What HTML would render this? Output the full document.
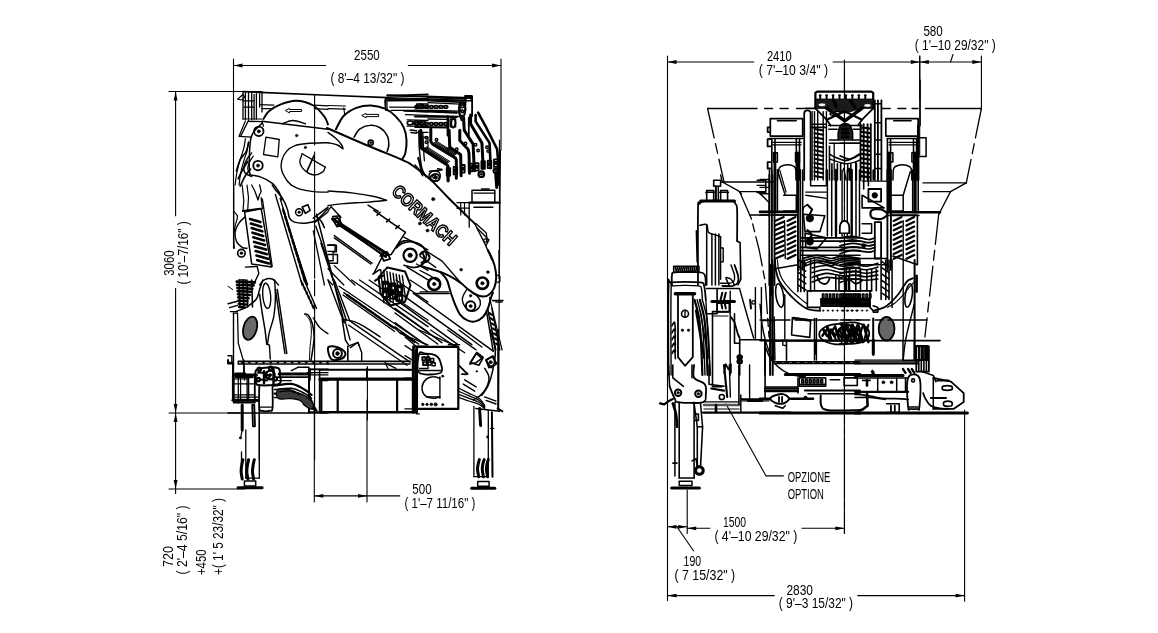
<!DOCTYPE html>
<html><head><meta charset="utf-8"><style>
html,body{margin:0;padding:0;background:#fff;}
svg{display:block;filter:grayscale(1);}
text{font-family:"Liberation Sans",sans-serif;fill:#000;stroke:none;}
</style></head><body>
<svg width="1158" height="633" viewBox="0 0 1158 633" stroke="#000" fill="none" stroke-linecap="round" stroke-linejoin="round">
<line x1="233.5" y1="59" x2="233.5" y2="248" stroke-width="1.1" />
<line x1="501" y1="59" x2="501" y2="150" stroke-width="1.1" />
<line x1="500.5" y1="150" x2="499.5" y2="250" stroke-width="1.1" />
<line x1="499.5" y1="250" x2="498.5" y2="408" stroke-width="1.1" />
<line x1="233.5" y1="65.5" x2="325.6" y2="65.5" stroke-width="1.1" />
<line x1="408.3" y1="65.5" x2="501" y2="65.5" stroke-width="1.1" />
<path d="M233.50,65.50 L242.50,63.60 L242.50,67.40 Z" fill="#000" stroke="none"/>
<path d="M501.00,65.50 L492.00,67.40 L492.00,63.60 Z" fill="#000" stroke="none"/>
<text x="354" y="60" font-size="15.5" textLength="25.8" lengthAdjust="spacingAndGlyphs" >2550</text>
<text x="330.4" y="83.3" font-size="15.5" textLength="74.1" lengthAdjust="spacingAndGlyphs" >( 8'–4 13/32&quot; )</text>
<line x1="169" y1="91.5" x2="262" y2="91.5" stroke-width="1.1" />
<line x1="175.6" y1="91.5" x2="175.6" y2="215.7" stroke-width="1.1" />
<line x1="175.6" y1="288.4" x2="175.6" y2="493.5" stroke-width="1.1" />
<path d="M175.60,91.50 L177.50,100.50 L173.70,100.50 Z" fill="#000" stroke="none"/>
<path d="M175.60,413.00 L173.70,404.00 L177.50,404.00 Z" fill="#000" stroke="none"/>
<path d="M175.60,413.00 L177.50,422.00 L173.70,422.00 Z" fill="#000" stroke="none"/>
<path d="M175.60,489.00 L173.70,480.00 L177.50,480.00 Z" fill="#000" stroke="none"/>
<text transform="translate(173.8,275.7) rotate(-90)" x="0" y="0" font-size="15.5" textLength="25.3" lengthAdjust="spacingAndGlyphs" >3060</text>
<text transform="translate(187.7,284.6) rotate(-90)" x="0" y="0" font-size="15.5" textLength="63.2" lengthAdjust="spacingAndGlyphs" >( 10'–7/16&quot; )</text>
<line x1="169" y1="413" x2="240" y2="413" stroke-width="1.1" />
<line x1="169" y1="489" x2="245" y2="489" stroke-width="1.1" />
<text transform="translate(172.6,567.1) rotate(-90)" x="0" y="0" font-size="15.5" textLength="21" lengthAdjust="spacingAndGlyphs" >720</text>
<text transform="translate(187.2,574.5) rotate(-90)" x="0" y="0" font-size="15.5" textLength="69" lengthAdjust="spacingAndGlyphs" >( 2'–4 5/16&quot; )</text>
<text transform="translate(205.8,575) rotate(-90)" x="0" y="0" font-size="15.5" textLength="25.5" lengthAdjust="spacingAndGlyphs" >+450</text>
<text transform="translate(223,575) rotate(-90)" x="0" y="0" font-size="15.5" textLength="77" lengthAdjust="spacingAndGlyphs" >+( 1' 5 23/32&quot; )</text>
<line x1="314.3" y1="400" x2="314.3" y2="502" stroke-width="1.1" />
<line x1="367" y1="400" x2="367" y2="502" stroke-width="1.1" />
<line x1="314.3" y1="495.9" x2="399.8" y2="495.9" stroke-width="1.1" />
<path d="M314.30,495.90 L323.30,494.00 L323.30,497.80 Z" fill="#000" stroke="none"/>
<path d="M367.00,495.90 L358.00,497.80 L358.00,494.00 Z" fill="#000" stroke="none"/>
<text x="412.3" y="494.2" font-size="15.5" textLength="19.3" lengthAdjust="spacingAndGlyphs" >500</text>
<text x="404.5" y="507.5" font-size="15.5" textLength="70.8" lengthAdjust="spacingAndGlyphs" >( 1'–7 11/16&quot; )</text>
<line x1="667.5" y1="56" x2="667.5" y2="600.6" stroke-width="1.1" />
<line x1="667.5" y1="62" x2="753.8" y2="62" stroke-width="1.1" />
<line x1="833.2" y1="62" x2="981.4" y2="62" stroke-width="1.1" />
<path d="M667.50,62.00 L676.50,60.10 L676.50,63.90 Z" fill="#000" stroke="none"/>
<path d="M919.80,62.00 L910.80,63.90 L910.80,60.10 Z" fill="#000" stroke="none"/>
<path d="M919.80,62.00 L928.80,60.10 L928.80,63.90 Z" fill="#000" stroke="none"/>
<path d="M981.40,62.00 L972.40,63.90 L972.40,60.10 Z" fill="#000" stroke="none"/>
<line x1="919.8" y1="56" x2="919.8" y2="100" stroke-width="1.1" />
<line x1="981.4" y1="56" x2="981.4" y2="110" stroke-width="1.1" />
<line x1="950.5" y1="62" x2="953" y2="54.5" stroke-width="1.1" />
<text x="766.9" y="61.2" font-size="15.5" textLength="24.9" lengthAdjust="spacingAndGlyphs" >2410</text>
<text x="758.8" y="74.5" font-size="15.5" textLength="69.2" lengthAdjust="spacingAndGlyphs" >( 7'–10 3/4&quot; )</text>
<text x="923.4" y="36.3" font-size="15.5" textLength="19.4" lengthAdjust="spacingAndGlyphs" >580</text>
<text x="914.8" y="50" font-size="15.5" textLength="80.9" lengthAdjust="spacingAndGlyphs" >( 1'–10 29/32&quot; )</text>
<line x1="687.2" y1="490" x2="687.2" y2="533.5" stroke-width="1.1" />
<line x1="667.5" y1="526.8" x2="687.2" y2="526.8" stroke-width="1.1" />
<line x1="687.2" y1="528.3" x2="709.8" y2="528.3" stroke-width="1.1" />
<line x1="802" y1="528.3" x2="844.4" y2="528.3" stroke-width="1.1" />
<path d="M667.50,526.80 L676.50,524.90 L676.50,528.70 Z" fill="#000" stroke="none"/>
<path d="M687.20,528.30 L696.20,526.40 L696.20,530.20 Z" fill="#000" stroke="none"/>
<path d="M687.20,526.80 L678.20,528.70 L678.20,524.90 Z" fill="#000" stroke="none"/>
<path d="M844.40,528.30 L835.40,530.20 L835.40,526.40 Z" fill="#000" stroke="none"/>
<line x1="844.4" y1="60" x2="844.4" y2="533.5" stroke-width="1.1" />
<line x1="677.2" y1="527.2" x2="693.5" y2="550.8" stroke-width="1.1" />
<text x="722.9" y="526.8" font-size="15.5" textLength="23.2" lengthAdjust="spacingAndGlyphs" >1500</text>
<text x="714.4" y="540.5" font-size="15.5" textLength="82.9" lengthAdjust="spacingAndGlyphs" >( 4'–10 29/32&quot; )</text>
<text x="683.6" y="566.2" font-size="15.5" textLength="17.5" lengthAdjust="spacingAndGlyphs" >190</text>
<text x="674.5" y="579.5" font-size="15.5" textLength="60.7" lengthAdjust="spacingAndGlyphs" >( 7 15/32&quot; )</text>
<line x1="667.5" y1="595.6" x2="774.2" y2="595.6" stroke-width="1.1" />
<line x1="857.7" y1="595.6" x2="964.6" y2="595.6" stroke-width="1.1" />
<path d="M667.50,595.60 L676.50,593.70 L676.50,597.50 Z" fill="#000" stroke="none"/>
<path d="M964.60,595.60 L955.60,597.50 L955.60,593.70 Z" fill="#000" stroke="none"/>
<line x1="964.6" y1="410" x2="964.6" y2="601.2" stroke-width="1.1" />
<text x="786.4" y="594.7" font-size="15.5" textLength="26.5" lengthAdjust="spacingAndGlyphs" >2830</text>
<text x="778.8" y="607.5" font-size="15.5" textLength="74.3" lengthAdjust="spacingAndGlyphs" >( 9'–3 15/32&quot; )</text>
<path d="M726,404 L766,475.9 L783.4,475.9" stroke-width="1.1" fill="none" />
<text x="787.7" y="481.6" font-size="15.5" textLength="42.6" lengthAdjust="spacingAndGlyphs" >OPZIONE</text>
<text x="787.7" y="499.4" font-size="15.5" textLength="36.2" lengthAdjust="spacingAndGlyphs" >OPTION</text>
<path d="M243.0,91.6 L328.0,95.3" stroke-width="1.6" fill="none" />
<path d="M259.6,104.7 L273.8,105.2" stroke-width="1.2" fill="none" />
<path d="M262.0,108.7 L270.7,108.7" stroke-width="1.2" fill="none" />
<path d="M314.1,105.2 L328.0,105.9" stroke-width="1.2" fill="none" />
<path d="M314.1,108.7 L328.0,109.3" stroke-width="1.2" fill="none" />
<path d="M263.5,119.0 C264.5,117.6 266.3,113.4 269.1,111.1 C271.8,108.7 275.7,106.5 280.1,104.7 C284.6,103.0 290.4,100.7 295.9,100.8 C301.5,100.9 308.6,102.9 313.3,105.5 C318.0,108.2 321.9,113.4 324.4,116.6 C326.8,119.8 327.4,123.2 328.0,124.5" stroke-width="1.9" fill="none" />
<path d="M282.5,123.7 C284.2,123.2 289.0,120.5 292.8,120.5 C296.6,120.5 303.3,123.2 305.4,123.7" stroke-width="1.5" fill="none" />
<path d="M285.7,110.3 L289.6,108.4 L289.6,109.5 L301.5,109.5 L301.5,111.5 L289.6,111.5 L289.6,112.6 Z" stroke-width="1.0" fill="none" />
<path d="M262.0,121.3 L328.0,129.2" stroke-width="1.5" fill="none" />
<circle cx="258.8" cy="131.3" r="4.74" stroke-width="1.8" fill="none"/>
<circle cx="258.8" cy="131.3" r="1.58" stroke-width="0.5" fill="#000"/>
<circle cx="258.0" cy="165.6" r="4.74" stroke-width="1.8" fill="none"/>
<circle cx="258.0" cy="165.6" r="1.58" stroke-width="0.5" fill="#000"/>
<path d="M265.9,137.1 L279.3,139.5 L277.8,156.9 L263.5,154.5 Z" stroke-width="1.3" fill="none" />
<circle cx="296.7" cy="135.6" r="1.26" stroke-width="0.5" fill="#000"/>
<circle cx="305.4" cy="147.4" r="1.26" stroke-width="0.5" fill="#000"/>
<path d="M328.0,142.7 C324.5,142.8 312.6,142.9 307.0,143.5 C301.4,144.0 297.8,144.5 294.4,145.8 C290.9,147.1 288.6,148.8 286.5,151.4 C284.3,153.9 282.5,157.7 281.7,160.8 C280.9,164.0 280.9,167.1 281.7,170.3 C282.5,173.5 284.9,177.3 286.5,179.8 C288.0,182.2 290.4,184.1 291.2,185.0" stroke-width="1.4" fill="none" />
<path d="M302.2,153.7 L325.2,167.1" stroke-width="1.3" fill="none" />
<path d="M302.2,153.7 C301.9,155.2 299.4,159.5 299.9,162.4 C300.4,165.3 303.0,169.0 305.4,171.1 C307.8,173.2 311.2,174.9 314.1,175.0 C317.0,175.2 320.9,173.2 322.8,171.9 C324.6,170.6 324.8,167.9 325.2,167.1" stroke-width="1.3" fill="none" />
<path d="M307.0,171.1 L314.1,155.3" stroke-width="1.6" fill="none" />
<path d="M314.6,95.3 L314.6,145.0" stroke-width="1.1" fill="none" />
<path d="M314.6,152.1 L314.6,185.0" stroke-width="1.1" fill="none" />
<path d="M237.5,99.2 L243.0,94.5 L244.6,96.8 L242.2,100.0 Z" stroke-width="1.2" fill="none" />
<path d="M243.0,92.1 L243.0,119.0" stroke-width="1.3" fill="none" />
<path d="M245.4,92.9 L245.4,119.8" stroke-width="1.3" fill="none" />
<path d="M248.5,92.1 L248.5,119.0" stroke-width="1.3" fill="none" />
<path d="M251.7,92.9 L251.7,119.8" stroke-width="1.3" fill="none" />
<path d="M254.1,94.5 L254.1,119.0" stroke-width="1.3" fill="none" />
<path d="M256.4,93.7 L256.4,119.0" stroke-width="1.3" fill="none" />
<path d="M259.6,93.7 L259.6,107.1" stroke-width="1.3" fill="none" />
<path d="M262.0,92.9 L262.0,111.9" stroke-width="1.3" fill="none" />
<path d="M243.0,100.8 L254.1,100.8" stroke-width="1.2" fill="none" />
<path d="M243.8,107.1 L254.1,107.1" stroke-width="1.2" fill="none" />
<path d="M243.0,119.0 L262.0,119.0" stroke-width="1.2" fill="none" />
<path d="M248.5,120.5 L240.6,136.3" stroke-width="1.4" fill="none" />
<path d="M245.4,121.0 L239.1,135.9" stroke-width="1.2" fill="none" />
<path d="M239.1,136.3 L251.7,137.1" stroke-width="1.2" fill="none" />
<path d="M248.5,121.3 L262.0,121.7 L263.5,126.1" stroke-width="1.3" fill="none" />
<path d="M245.4,138.7 C245.1,140.3 244.7,144.5 243.8,148.2 C242.9,151.9 241.0,156.6 239.8,160.8 C238.7,165.0 237.5,169.4 236.7,173.5 C235.9,177.5 235.4,183.1 235.1,185.0" stroke-width="1.2" fill="none" />
<path d="M248.5,141.9 C248.3,143.5 247.7,148.2 247.0,151.4 C246.2,154.5 244.9,157.1 243.8,160.8 C242.7,164.5 241.4,169.4 240.6,173.5 C239.8,177.5 239.3,183.1 239.1,185.0" stroke-width="1.2" fill="none" />
<path d="M251.7,152.9 C250.9,154.0 248.3,156.9 247.0,159.2 C245.6,161.6 244.1,164.8 243.8,167.1 C243.5,169.5 244.1,171.9 245.4,173.5 C246.7,175.0 250.6,176.1 251.7,176.6" stroke-width="1.4" fill="none" />
<path d="M253.3,156.1 C252.6,157.1 250.2,160.3 249.3,162.4 C248.4,164.5 247.6,166.9 247.7,168.7 C247.9,170.6 249.7,172.7 250.1,173.5" stroke-width="1.2" fill="none" />
<path d="M233.8,185.0 L233.8,248.2" stroke-width="1.2" fill="none" />
<path d="M244.6,211.9 L261.2,208.7 L271.4,267.1 L251.7,264.0 Z" stroke-width="1.5" fill="none" />
<path d="M243.0,211.1 L260.4,208.7" stroke-width="2.0" fill="none" />
<path d="M261.2,197.6 L262.4,208.7" stroke-width="1.3" fill="none" />
<path d="M262.4,199.2 L272.2,266.4" stroke-width="1.3" fill="none" />
<path d="M250.1,219.0 L260.4,222.1" stroke-width="2.6" fill="none" />
<path d="M250.9,223.5 L261.3,226.7" stroke-width="2.6" fill="none" />
<path d="M251.7,228.1 L262.3,231.3" stroke-width="2.6" fill="none" />
<path d="M252.5,232.7 L263.2,235.9" stroke-width="2.6" fill="none" />
<path d="M253.3,237.3 L264.2,240.5" stroke-width="2.6" fill="none" />
<path d="M254.1,241.9 L265.1,245.0" stroke-width="2.6" fill="none" />
<path d="M254.9,246.5 L266.1,249.6" stroke-width="2.6" fill="none" />
<path d="M255.6,251.0 L267.0,254.2" stroke-width="2.6" fill="none" />
<path d="M256.4,255.6 L268.0,258.8" stroke-width="2.6" fill="none" />
<path d="M257.2,260.2 L268.9,263.4" stroke-width="2.6" fill="none" />
<path d="M245.4,216.6 C244.3,217.6 240.8,220.3 239.1,222.9 C237.3,225.5 235.5,229.2 235.1,232.4 C234.7,235.6 235.5,239.4 236.7,241.9 C237.9,244.4 240.5,246.3 242.2,247.4 C243.9,248.5 246.2,248.1 247.0,248.2" stroke-width="1.4" fill="none" />
<path d="M234.3,211.9 C234.8,212.6 237.3,214.2 237.5,216.6 C237.6,219.0 235.8,222.7 235.1,226.1 C234.5,229.5 233.7,233.4 233.5,237.1 C233.4,240.8 234.2,246.3 234.3,248.2" stroke-width="1.2" fill="none" />
<circle cx="241.4" cy="253.2" r="3.79" stroke-width="1.6" fill="none"/>
<circle cx="241.4" cy="253.2" r="1.42" stroke-width="0.5" fill="#000"/>
<path d="M242.2,185.0 L243.8,200.8 L243.0,211.1" stroke-width="1.2" fill="none" />
<path d="M247.0,185.0 L248.5,197.6 L247.7,210.3" stroke-width="1.2" fill="none" />
<path d="M251.7,185.0 L254.9,191.3 L258.0,200.0 L259.6,194.5 L261.2,191.3 L259.6,185.0" stroke-width="1.3" fill="none" />
<path d="M272.2,185.0 C272.8,185.8 273.7,187.5 275.4,189.7 C277.1,192.0 280.5,195.3 282.5,198.4 C284.5,201.6 286.1,205.4 287.2,208.7 C288.4,212.0 288.4,215.9 289.6,218.2 C290.8,220.4 291.5,221.3 294.4,222.1 C297.2,222.9 303.3,223.3 307.0,222.9 C310.7,222.6 313.0,222.4 316.5,220.1 C320.0,217.7 326.1,210.6 328.0,208.7" stroke-width="1.5" fill="none" />
<path d="M291.2,185.0 C292.5,185.7 295.4,187.8 299.1,188.9 C302.8,190.1 308.5,191.1 313.3,191.6 C318.1,192.2 325.6,192.0 328.0,192.1" stroke-width="1.3" fill="none" />
<circle cx="299.1" cy="212.2" r="3.48" stroke-width="1.5" fill="none"/>
<circle cx="299.1" cy="212.2" r="1.26" stroke-width="0.5" fill="#000"/>
<path d="M302.2,207.1 L307.8,204.7 L310.1,210.3 L305.4,213.4 Z" stroke-width="1.6" fill="none" />
<path d="M275.4,194.5 L302.2,285.0" stroke-width="1.4" fill="none" />
<path d="M280.1,198.4 L307.0,285.0" stroke-width="1.4" fill="none" />
<path d="M282.5,208.7 L307.8,285.0" stroke-width="1.1" fill="none" />
<path d="M283.3,210.3 L284.6,214.2" stroke-width="2.4" fill="none" />
<path d="M285.1,216.3 L286.4,220.3" stroke-width="2.4" fill="none" />
<path d="M287.0,222.4 L288.2,226.3" stroke-width="2.4" fill="none" />
<path d="M288.8,228.4 L290.1,232.4" stroke-width="2.4" fill="none" />
<path d="M290.7,234.5 L291.9,238.4" stroke-width="2.4" fill="none" />
<path d="M292.5,240.6 L293.8,244.5" stroke-width="2.4" fill="none" />
<path d="M294.4,246.6 L295.6,250.6" stroke-width="2.4" fill="none" />
<path d="M296.2,252.7 L297.5,256.6" stroke-width="2.4" fill="none" />
<path d="M298.0,258.7 L299.3,262.7" stroke-width="2.4" fill="none" />
<path d="M299.9,264.8 L301.1,268.7" stroke-width="2.4" fill="none" />
<path d="M301.7,270.8 L303.0,274.8" stroke-width="2.4" fill="none" />
<path d="M303.6,276.9 L304.8,280.8" stroke-width="2.4" fill="none" />
<path d="M314.6,185.0 L314.6,278.2" stroke-width="1.1" fill="none" />
<path d="M313.3,218.2 L328.0,207.1" stroke-width="1.5" fill="none" />
<path d="M314.1,222.9 L328.0,211.9" stroke-width="1.3" fill="none" />
<path d="M315.7,226.1 L328.0,260.8" stroke-width="1.4" fill="none" />
<path d="M313.3,230.8 L324.4,285.0" stroke-width="1.3" fill="none" />
<path d="M316.5,216.6 C317.3,217.4 319.9,219.5 321.2,221.3 C322.5,223.2 323.8,226.6 324.4,227.7" stroke-width="1.6" fill="none" />
<path d="M245.4,267.1 L257.2,266.4 L258.8,273.5 L253.3,285.0" stroke-width="1.4" fill="none" />
<path d="M239.1,279.8 L245.4,279.8 L245.4,285.0" stroke-width="1.3" fill="none" />
<path d="M259.6,285.0 C260.4,284.1 262.2,280.8 264.3,279.8 C266.4,278.8 269.9,278.1 272.2,279.0 C274.6,279.9 277.5,284.0 278.6,285.0" stroke-width="1.4" fill="none" />
<path d="M328.0,95.3 L388.0,97.6" stroke-width="1.6" fill="none" />
<path d="M328.0,105.5 L345.4,106.0" stroke-width="1.2" fill="none" />
<path d="M328.0,108.7 L345.4,109.2" stroke-width="1.2" fill="none" />
<path d="M403.8,111.1 L428.0,111.9" stroke-width="1.2" fill="none" />
<path d="M405.4,114.7 L428.0,115.3" stroke-width="1.2" fill="none" />
<path d="M343.8,107.9 L344.6,114.2" stroke-width="1.1" fill="none" />
<path d="M387.2,95.7 L428.0,94.2" stroke-width="1.6" fill="none" />
<path d="M388.0,97.3 L428.0,96.1" stroke-width="1.3" fill="none" />
<path d="M388.8,99.2 L428.0,98.4" stroke-width="1.2" fill="none" />
<path d="M387.2,100.8 L428.0,100.5" stroke-width="1.4" fill="none" />
<path d="M389.6,107.1 L428.0,107.4" stroke-width="1.2" fill="none" />
<path d="M391.2,110.3 L428.0,110.3" stroke-width="1.3" fill="none" />
<path d="M384.9,100.0 L385.7,110.3 L387.2,110.3 L386.8,100.0" stroke-width="1.2" fill="none" />
<path d="M416.5,104.0 L428.0,104.0 L428.0,107.9 L416.5,107.9 Z" stroke-width="1.3" fill="none" />
<path d="M418.8,104.7 C419.1,104.2 420.4,103.9 421.2,104.0 C422.0,104.0 423.3,104.7 423.6,105.2 C423.8,105.7 423.4,106.7 422.8,107.1 C422.1,107.5 420.3,107.8 419.6,107.4 C419.0,107.0 418.6,105.3 418.8,104.7 Z" stroke-width="1.5" fill="none" />
<path d="M407.0,119.8 L428.0,120.5" stroke-width="1.3" fill="none" />
<path d="M407.0,126.1 L428.0,126.4" stroke-width="1.3" fill="none" />
<ellipse cx="410.1" cy="122.9" rx="2.84" ry="1.90" transform="rotate(0 410.1 122.9)" stroke-width="1.6" fill="none"/>
<ellipse cx="416.5" cy="122.9" rx="2.84" ry="1.90" transform="rotate(0 416.5 122.9)" stroke-width="1.6" fill="none"/>
<ellipse cx="422.8" cy="122.9" rx="2.84" ry="1.90" transform="rotate(0 422.8 122.9)" stroke-width="1.6" fill="none"/>
<path d="M410.1,130.0 L416.5,130.8" stroke-width="1.5" fill="none" />
<path d="M410.9,132.4 L416.5,133.2" stroke-width="1.5" fill="none" />
<path d="M418.8,130.8 C418.9,133.7 419.0,143.5 419.3,148.2 C419.6,152.9 420.0,155.8 420.4,159.2 C420.9,162.7 421.1,165.8 422.0,168.7 C422.9,171.6 425.3,175.3 425.9,176.6" stroke-width="1.5" fill="none" />
<path d="M422.8,132.4 C422.9,135.0 423.3,143.5 423.6,148.2 C423.8,152.9 424.2,158.7 424.4,160.8" stroke-width="1.3" fill="none" />
<path d="M416.5,132.4 L428.0,132.4" stroke-width="1.2" fill="none" />
<path d="M422.8,137.1 L428.0,137.1 L428.0,148.2 L422.8,148.2 Z" stroke-width="1.2" fill="none" />
<path d="M335.9,129.2 C337.2,127.0 340.4,119.4 343.8,115.8 C347.2,112.3 352.0,109.6 356.4,107.9 C360.9,106.2 365.9,105.4 370.7,105.5 C375.4,105.7 380.7,106.9 384.9,108.7 C389.1,110.5 392.8,113.4 395.9,116.6 C399.1,119.8 402.1,123.7 403.8,127.7 C405.6,131.6 406.3,136.1 406.5,140.3 C406.8,144.5 406.1,149.8 405.4,152.9 C404.7,156.1 402.8,158.2 402.2,159.2" stroke-width="2.0" fill="none" />
<path d="M354.1,137.1 C355.0,135.8 357.0,131.2 359.6,129.2 C362.2,127.3 366.4,125.5 369.9,125.3 C373.3,125.0 377.2,125.9 380.1,127.7 C383.0,129.4 385.8,132.7 387.2,135.6 C388.7,138.4 388.8,142.4 388.8,145.0 C388.8,147.7 387.5,150.3 387.2,151.4" stroke-width="1.6" fill="none" />
<circle cx="370.7" cy="142.7" r="2.53" stroke-width="1.6" fill="none"/>
<circle cx="370.7" cy="142.7" r="1.11" stroke-width="0.5" fill="#000"/>
<path d="M362.0,115.3 L365.9,113.4 L365.9,114.4 L378.6,114.4 L378.6,116.6 L365.9,116.6 L365.9,117.5 Z" stroke-width="1.0" fill="none" />
<path d="M328.0,132.4 C329.1,133.2 332.2,135.3 334.3,137.1 C336.4,139.0 339.2,141.5 340.6,143.5 C342.1,145.4 343.5,148.7 343.0,149.0 C342.5,149.2 340.0,146.1 337.5,145.0 C335.0,144.0 329.6,143.1 328.0,142.7" stroke-width="1.4" fill="none" />
<path d="M428.0,97.3 L465.9,98.9" stroke-width="1.8" fill="none" />
<path d="M428.0,98.9 L465.9,100.5" stroke-width="1.4" fill="none" />
<path d="M428.0,100.8 L465.9,102.4" stroke-width="1.6" fill="none" />
<path d="M428.0,102.7 L465.9,104.3" stroke-width="1.3" fill="none" />
<path d="M428.0,110.3 L459.6,111.1" stroke-width="1.4" fill="none" />
<path d="M428.0,115.8 L459.6,116.6" stroke-width="1.5" fill="none" />
<path d="M428.0,119.0 L447.0,119.4" stroke-width="1.3" fill="none" />
<path d="M428.0,126.9 L447.0,126.9" stroke-width="1.3" fill="none" />
<path d="M465.1,95.7 L471.4,95.7 L471.4,100.8 L465.6,100.8 Z" stroke-width="1.6" fill="none" />
<path d="M460.4,104.0 C460.9,102.8 462.8,102.6 463.5,103.2 C464.3,103.7 465.1,105.5 465.1,107.1 C465.1,108.7 464.3,112.1 463.5,112.6 C462.8,113.2 460.9,111.7 460.4,110.3 C459.9,108.8 459.9,105.1 460.4,104.0 Z" stroke-width="1.5" fill="none" />
<path d="M450.1,119.0 L455.6,119.0 L455.6,126.9 L450.1,126.9 Z" stroke-width="1.4" fill="none" />
<path d="M420.7,130.3 L420.7,146.7 L421.9,148.6 L447.2,165.0 L448.1,166.9 L448.1,180.8" stroke-width="3.2" fill="none" />
<path d="M430.8,129.0 L430.8,141.6 L432.7,144.1 L455.4,158.0 L456.3,159.9 L456.3,178.2" stroke-width="3.0" fill="none" />
<path d="M449.1,130.3 L449.7,146.7 L451.6,148.6 L460.5,154.5 L460.7,156.1 L461.1,175.7" stroke-width="3.0" fill="none" />
<path d="M459.8,130.3 L459.8,140.4 L468.0,149.2 L469.0,153.0 L469.5,173.2" stroke-width="3.0" fill="none" />
<path d="M463.6,117.6 L464.2,130.3 L473.1,144.1 L474.3,170.7" stroke-width="3.0" fill="none" />
<path d="M470.6,115.1 L470.6,123.9 L481.9,142.9 L483.2,168.1" stroke-width="3.0" fill="none" />
<path d="M475.6,115.1 L475.6,121.4 L489.5,142.9 L490.8,168.1" stroke-width="2.6" fill="none" />
<path d="M478.1,112.6 L485.7,126.5 L497.1,149.2 L498.3,161.8 L497.7,184.9" stroke-width="2.6" fill="none" />
<path d="M432.7,144.1 L452.9,156.8" stroke-width="1.1" fill="none" />
<path d="M433.6,143.4 L453.8,156.0" stroke-width="1.1" fill="none" />
<path d="M434.4,142.6 L454.6,155.3" stroke-width="1.1" fill="none" />
<path d="M435.3,141.9 L455.5,154.5" stroke-width="1.1" fill="none" />
<path d="M436.2,141.1 L456.4,153.7" stroke-width="1.1" fill="none" />
<path d="M423.8,149.2 L446.6,163.7" stroke-width="1.1" fill="none" />
<path d="M424.8,148.4 L447.6,163.0" stroke-width="1.1" fill="none" />
<path d="M425.9,147.7 L448.6,162.2" stroke-width="1.1" fill="none" />
<path d="M426.9,146.9 L449.6,161.4" stroke-width="1.1" fill="none" />
<circle cx="426.4" cy="137.8" r="1.26" stroke-width="1.4" fill="none"/>
<circle cx="426.4" cy="142.2" r="1.26" stroke-width="1.4" fill="none"/>
<circle cx="436.5" cy="139.7" r="1.26" stroke-width="1.4" fill="none"/>
<circle cx="465.5" cy="143.5" r="1.26" stroke-width="1.4" fill="none"/>
<circle cx="475.6" cy="144.8" r="1.26" stroke-width="1.4" fill="none"/>
<circle cx="478.1" cy="150.5" r="1.26" stroke-width="1.4" fill="none"/>
<circle cx="487.0" cy="147.3" r="1.26" stroke-width="1.4" fill="none"/>
<circle cx="488.2" cy="151.1" r="1.26" stroke-width="1.4" fill="none"/>
<circle cx="448.5" cy="149.2" r="1.26" stroke-width="1.4" fill="none"/>
<circle cx="456.7" cy="149.2" r="1.26" stroke-width="1.4" fill="none"/>
<path d="M446.7,168.1 L450.2,168.1 L450.2,175.7 L446.7,175.7 Z" stroke-width="1.8" fill="none" />
<path d="M447.7,170.7 L449.2,170.7 L449.2,173.2 L447.7,173.2 Z" stroke-width="1.5" fill="none" />
<path d="M453.6,166.9 L457.2,166.9 L457.2,174.4 L453.6,174.4 Z" stroke-width="1.8" fill="none" />
<path d="M454.6,169.4 L456.2,169.4 L456.2,171.9 L454.6,171.9 Z" stroke-width="1.5" fill="none" />
<path d="M461.2,165.0 L464.7,165.0 L464.7,172.6 L461.2,172.6 Z" stroke-width="1.8" fill="none" />
<path d="M462.2,167.5 L463.7,167.5 L463.7,170.0 L462.2,170.0 Z" stroke-width="1.5" fill="none" />
<path d="M468.8,163.7 L472.3,163.7 L472.3,171.3 L468.8,171.3 Z" stroke-width="1.8" fill="none" />
<path d="M469.8,166.2 L471.3,166.2 L471.3,168.8 L469.8,168.8 Z" stroke-width="1.5" fill="none" />
<path d="M475.1,163.1 L478.6,163.1 L478.6,170.7 L475.1,170.7 Z" stroke-width="1.8" fill="none" />
<path d="M476.1,165.6 L477.6,165.6 L477.6,168.1 L476.1,168.1 Z" stroke-width="1.5" fill="none" />
<path d="M481.4,161.2 L484.9,161.2 L484.9,168.8 L481.4,168.8 Z" stroke-width="1.8" fill="none" />
<path d="M482.4,163.7 L483.9,163.7 L483.9,166.2 L482.4,166.2 Z" stroke-width="1.5" fill="none" />
<path d="M487.7,160.6 L491.3,160.6 L491.3,168.1 L487.7,168.1 Z" stroke-width="1.8" fill="none" />
<path d="M488.7,163.1 L490.3,163.1 L490.3,165.6 L488.7,165.6 Z" stroke-width="1.5" fill="none" />
<path d="M494.0,159.3 L497.6,159.3 L497.6,166.9 L494.0,166.9 Z" stroke-width="1.8" fill="none" />
<path d="M495.1,161.8 L496.6,161.8 L496.6,164.3 L495.1,164.3 Z" stroke-width="1.5" fill="none" />
<circle cx="481.3" cy="174.2" r="2.78" stroke-width="2.2" fill="none"/>
<circle cx="481.3" cy="174.2" r="1.14" stroke-width="0.5" fill="#000"/>
<circle cx="495.8" cy="170.7" r="2.27" stroke-width="2.0" fill="none"/>
<circle cx="495.8" cy="170.7" r="1.01" stroke-width="0.5" fill="#000"/>
<path d="M496.4,173.2 L497.1,184.9" stroke-width="3.0" fill="none" />
<path d="M431.4,175.7 C432.2,174.9 433.9,173.8 435.2,173.8 C436.5,173.8 438.5,174.7 439.0,175.7 C439.5,176.8 439.2,179.3 438.4,180.1 C437.5,181.0 435.2,181.0 433.9,180.8 C432.7,180.5 431.2,179.7 430.8,178.9 C430.4,178.0 430.7,176.5 431.4,175.7 Z" stroke-width="1.8" fill="none" />
<circle cx="435.8" cy="177.6" r="1.26" stroke-width="1.6" fill="none"/>
<path d="M429.5,171.3 L441.5,170.0" stroke-width="1.6" fill="none" />
<path d="M415.0,165.0 L420.1,170.7 L422.6,175.7" stroke-width="1.6" fill="none" />
<path d="M418.2,158.0 L420.1,164.3 L421.9,173.2" stroke-width="2.2" fill="none" />
<path d="M451.6,120.2 C452.0,118.9 453.5,118.5 454.1,118.9 C454.8,119.3 455.4,121.3 455.4,122.7 C455.4,124.0 454.8,126.5 454.1,127.1 C453.5,127.7 452.0,127.6 451.6,126.5 C451.2,125.3 451.2,121.4 451.6,120.2 Z" stroke-width="2.0" fill="none" />
<ellipse cx="416.9" cy="123.9" rx="2.02" ry="1.26" transform="rotate(0 416.9 123.9)" stroke-width="1.6" fill="none"/>
<ellipse cx="416.9" cy="106.9" rx="2.02" ry="1.26" transform="rotate(0 416.9 106.9)" stroke-width="1.6" fill="none"/>
<ellipse cx="421.7" cy="123.9" rx="2.02" ry="1.26" transform="rotate(0 421.7 123.9)" stroke-width="1.6" fill="none"/>
<ellipse cx="421.7" cy="106.9" rx="2.02" ry="1.26" transform="rotate(0 421.7 106.9)" stroke-width="1.6" fill="none"/>
<ellipse cx="426.5" cy="123.9" rx="2.02" ry="1.26" transform="rotate(0 426.5 123.9)" stroke-width="1.6" fill="none"/>
<ellipse cx="426.5" cy="106.9" rx="2.02" ry="1.26" transform="rotate(0 426.5 106.9)" stroke-width="1.6" fill="none"/>
<ellipse cx="431.3" cy="123.9" rx="2.02" ry="1.26" transform="rotate(0 431.3 123.9)" stroke-width="1.6" fill="none"/>
<ellipse cx="431.3" cy="106.9" rx="2.02" ry="1.26" transform="rotate(0 431.3 106.9)" stroke-width="1.6" fill="none"/>
<ellipse cx="436.1" cy="123.9" rx="2.02" ry="1.26" transform="rotate(0 436.1 123.9)" stroke-width="1.6" fill="none"/>
<ellipse cx="436.1" cy="106.9" rx="2.02" ry="1.26" transform="rotate(0 436.1 106.9)" stroke-width="1.6" fill="none"/>
<ellipse cx="440.9" cy="123.9" rx="2.02" ry="1.26" transform="rotate(0 440.9 123.9)" stroke-width="1.6" fill="none"/>
<ellipse cx="440.9" cy="106.9" rx="2.02" ry="1.26" transform="rotate(0 440.9 106.9)" stroke-width="1.6" fill="none"/>
<ellipse cx="445.7" cy="123.9" rx="2.02" ry="1.26" transform="rotate(0 445.7 123.9)" stroke-width="1.6" fill="none"/>
<ellipse cx="445.7" cy="106.9" rx="2.02" ry="1.26" transform="rotate(0 445.7 106.9)" stroke-width="1.6" fill="none"/>
<path d="M415.0,110.7 L456.7,112.6" stroke-width="2.4" fill="none" />
<path d="M415.0,116.4 L456.7,117.0" stroke-width="2.0" fill="none" />
<path d="M415.0,127.1 L447.8,127.7" stroke-width="1.6" fill="none" />
<path d="M447.8,116.4 L447.8,135.3" stroke-width="2.4" fill="none" />
<path d="M459.2,112.6 L461.7,120.2" stroke-width="2.2" fill="none" />
<path d="M429.6,173.5 C430.4,172.3 432.6,171.1 434.3,171.1 C436.0,171.1 439.1,172.0 439.8,173.5 C440.6,174.9 440.2,178.5 439.1,179.8 C437.9,181.1 434.3,181.6 432.7,181.4 C431.2,181.1 430.1,179.5 429.6,178.2 C429.1,176.9 428.8,174.7 429.6,173.5 Z" stroke-width="1.5" fill="none" />
<circle cx="434.3" cy="176.6" r="1.58" stroke-width="1.4" fill="none"/>
<path d="M437.5,168.7 L442.2,169.5" stroke-width="1.4" fill="none" />
<path d="M328.0,205.5 C330.6,205.2 337.2,204.2 343.8,203.6 C350.4,203.1 360.4,202.6 367.5,202.1 C374.6,201.5 383.3,200.6 386.5,200.3" stroke-width="1.4" fill="none" />
<path d="M328.0,191.0 C331.9,191.3 343.8,191.9 351.7,192.9 C359.6,193.9 369.6,195.6 375.4,196.8 C381.2,198.1 384.6,199.7 386.5,200.3" stroke-width="1.4" fill="none" />
<path d="M331.2,206.3 L328.0,211.1" stroke-width="1.2" fill="none" />
<path d="M332.7,219.0 L388.0,254.5" stroke-width="3.2" fill="none" />
<path d="M337.5,224.5 L386.5,256.9" stroke-width="1.3" fill="none" />
<path d="M332.7,216.6 L339.8,215.8 L340.6,226.1" stroke-width="1.6" fill="none" />
<path d="M373.8,210.3 L405.4,232.4" stroke-width="1.6" fill="none" />
<path d="M377.0,215.2 L380.1,212.3" stroke-width="1.6" fill="none" />
<path d="M386.5,221.8 L389.6,219.0" stroke-width="1.6" fill="none" />
<path d="M395.9,228.4 L399.1,225.6" stroke-width="1.6" fill="none" />
<path d="M405.4,232.4 L391.2,254.5 L380.1,256.1" stroke-width="1.5" fill="none" />
<path d="M334.3,235.6 L372.2,263.2" stroke-width="1.4" fill="none" />
<path d="M334.3,237.9 L370.7,264.0" stroke-width="1.4" fill="none" />
<path d="M383.3,254.5 L373.8,273.5" stroke-width="1.6" fill="none" />
<circle cx="410.1" cy="255.3" r="6.64" stroke-width="2.2" fill="none"/>
<circle cx="410.1" cy="255.3" r="2.21" stroke-width="0.5" fill="#000"/>
<path d="M395.9,248.2 C397.0,247.4 399.6,244.5 402.2,243.5 C404.9,242.4 408.6,241.6 411.7,241.9 C414.9,242.1 418.8,243.5 421.2,245.0 C423.6,246.6 425.2,250.3 425.9,251.4" stroke-width="1.5" fill="none" />
<path d="M422.8,252.9 C423.1,254.0 424.6,257.1 424.4,259.2 C424.1,261.4 421.7,264.5 421.2,265.6" stroke-width="2.0" fill="none" />
<path d="M403.8,237.1 L428.0,249.8" stroke-width="1.4" fill="none" />
<path d="M328.0,245.0 L335.1,245.0 L335.1,251.4 L328.0,251.4" stroke-width="1.4" fill="none" />
<path d="M328.0,254.5 L337.5,254.5 L337.5,263.2 L328.0,263.2" stroke-width="1.4" fill="none" />
<path d="M328.0,268.7 L343.8,285.0" stroke-width="1.3" fill="none" />
<path d="M334.3,265.6 L354.9,285.0" stroke-width="1.3" fill="none" />
<path d="M328.0,279.8 L332.7,285.0" stroke-width="1.2" fill="none" />
<path d="M407.0,267.1 L428.0,279.8" stroke-width="1.5" fill="none" />
<path d="M416.5,264.0 L428.0,270.3" stroke-width="1.4" fill="none" />
<path d="M499.5,140.0 L499.5,260.0" stroke-width="1.2" fill="none" />
<path d="M469.2,202.6 L499.5,202.6" stroke-width="2.2" fill="none" />
<path d="M469.2,202.6 L469.2,227.2" stroke-width="1.3" fill="none" />
<path d="M472.0,190.2 L494.8,190.2 L494.8,202.6 L472.0,202.6 Z" stroke-width="1.5" fill="none" />
<path d="M473.9,193.1 L494.8,193.1" stroke-width="1.2" fill="none" />
<path d="M481.5,188.9 L489.1,188.9" stroke-width="1.5" fill="none" />
<path d="M473.9,207.3 L492.9,207.3" stroke-width="1.4" fill="none" />
<path d="M456.9,202.6 L469.2,202.6" stroke-width="1.2" fill="none" />
<path d="M456.9,208.2 L469.2,208.2" stroke-width="1.2" fill="none" />
<path d="M460.7,202.6 L460.7,214.9" stroke-width="1.2" fill="none" />
<path d="M464.5,202.6 L464.5,214.9" stroke-width="1.2" fill="none" />
<path d="M495.7,174.1 L496.7,187.4" stroke-width="3.0" fill="none" />
<circle cx="433.2" cy="199.1" r="1.71" stroke-width="0.5" fill="#000"/>
<circle cx="419.9" cy="223.4" r="1.52" stroke-width="0.5" fill="#000"/>
<circle cx="427.5" cy="230.6" r="1.52" stroke-width="0.5" fill="#000"/>
<path d="M475.8,223.4 L486.3,232.9 L487.2,242.4" stroke-width="1.3" fill="none" />
<circle cx="485.3" cy="240.5" r="1.71" stroke-width="1.3" fill="none"/>
<text transform="translate(424.3,215.2) rotate(42.3)" text-anchor="middle" dominant-baseline="central" font-size="18" font-weight="bold" textLength="80" lengthAdjust="spacingAndGlyphs" style="fill:#fff;stroke:#000;stroke-width:1.5">CORMACH</text>
<path d="M233.5,313.2 L233.5,380.0" stroke-width="1.4" fill="none" />
<path d="M237.5,313.2 L238.3,343.2 L243.8,362.1 L244.6,380.0" stroke-width="1.3" fill="none" />
<path d="M233.5,313.2 L237.5,313.2" stroke-width="1.3" fill="none" />
<path d="M235.9,311.6 C237.7,310.8 243.5,309.0 247.0,306.9 C250.4,304.7 254.3,301.9 256.4,299.0 C258.5,296.1 258.5,292.6 259.6,289.5 C260.6,286.3 262.2,281.6 262.8,280.0" stroke-width="1.5" fill="none" />
<path d="M236.7,281.6 L254.9,282.4" stroke-width="2.6" fill="none" />
<path d="M237.0,284.7 L253.6,285.5" stroke-width="2.6" fill="none" />
<path d="M237.3,287.9 L252.3,288.7" stroke-width="2.6" fill="none" />
<path d="M237.6,291.1 L251.1,291.8" stroke-width="2.6" fill="none" />
<path d="M238.0,294.2 L249.8,295.0" stroke-width="2.6" fill="none" />
<path d="M238.3,297.4 L248.5,298.2" stroke-width="2.6" fill="none" />
<path d="M238.6,300.5 L247.3,301.3" stroke-width="2.6" fill="none" />
<path d="M238.9,303.7 L246.0,304.5" stroke-width="2.6" fill="none" />
<path d="M239.2,306.9 L244.7,307.6" stroke-width="2.6" fill="none" />
<path d="M239.1,280.0 L239.8,306.9" stroke-width="1.6" fill="none" />
<path d="M243.0,280.0 L243.8,306.9" stroke-width="1.6" fill="none" />
<path d="M247.0,280.0 L247.7,306.9" stroke-width="1.6" fill="none" />
<path d="M251.7,280.0 L252.5,306.9" stroke-width="1.6" fill="none" />
<path d="M228.0,303.7 L237.5,301.3" stroke-width="1.4" fill="none" />
<path d="M229.6,307.6 L237.5,305.3" stroke-width="1.4" fill="none" />
<path d="M228.0,286.3 L232.7,289.5" stroke-width="1.0" fill="none" />
<path d="M230.4,311.6 L237.5,311.6" stroke-width="1.2" fill="none" />
<ellipse cx="250.1" cy="328.2" rx="6.64" ry="11.85" transform="rotate(15 250.1 328.2)" stroke-width="1.8" fill="#6a6a6a"/>
<ellipse cx="266.7" cy="295.8" rx="3.95" ry="12.64" transform="rotate(-5 266.7 295.8)" stroke-width="1.4" fill="none"/>
<path d="M259.6,294.2 C260.0,297.1 261.0,305.5 262.0,311.6 C262.9,317.7 264.3,325.2 265.1,330.6 C265.9,336.0 266.4,341.7 266.7,344.0" stroke-width="1.5" fill="none" />
<path d="M266.7,344.0 L269.4,345.1 L270.3,359.0" stroke-width="1.4" fill="none" />
<path d="M274.6,280.0 C274.7,282.6 275.5,289.7 275.4,295.8 C275.3,301.9 274.8,310.3 273.8,316.3 C272.8,322.4 270.4,327.5 269.4,332.1 C268.3,336.7 267.8,342.0 267.5,344.0" stroke-width="1.4" fill="none" />
<path d="M275.4,289.5 L284.9,353.5" stroke-width="1.5" fill="none" />
<path d="M277.3,289.5 L286.8,353.5" stroke-width="1.5" fill="none" />
<path d="M300.7,280.0 L314.6,310.0" stroke-width="1.4" fill="none" />
<path d="M304.1,280.0 L316.5,308.4" stroke-width="1.4" fill="none" />
<path d="M302.2,283.2 L303.0,285.4" stroke-width="2.2" fill="none" />
<path d="M304.3,287.6 L305.1,289.8" stroke-width="2.2" fill="none" />
<path d="M306.4,292.0 L307.1,294.2" stroke-width="2.2" fill="none" />
<path d="M308.4,296.4 L309.2,298.6" stroke-width="2.2" fill="none" />
<path d="M310.5,300.9 L311.3,303.1" stroke-width="2.2" fill="none" />
<path d="M312.5,305.3 L313.3,307.5" stroke-width="2.2" fill="none" />
<path d="M304.6,314.0 C305.3,314.2 307.3,313.8 308.6,315.5 C309.9,317.3 311.6,320.7 312.5,324.2 C313.4,327.8 314.1,332.4 314.1,336.9 C314.1,341.3 313.0,347.1 312.5,351.1 C312.0,355.0 311.2,359.0 310.9,360.6" stroke-width="1.5" fill="none" />
<path d="M305.4,314.8 C306.2,315.8 309.1,318.2 310.1,321.1 C311.1,324.0 311.4,327.9 311.4,332.1 C311.4,336.3 310.5,341.7 310.1,346.4 C309.8,351.0 309.5,357.5 309.4,359.8" stroke-width="1.0" fill="none" />
<path d="M313.3,317.9 C314.4,319.5 317.2,324.8 319.6,327.4 C322.1,330.0 326.6,332.7 328.0,333.7" stroke-width="1.4" fill="none" />
<path d="M314.6,280.0 L314.6,295.8" stroke-width="1.1" fill="none" />
<path d="M314.6,303.7 L314.6,380.0" stroke-width="1.1" fill="none" />
<path d="M238.3,361.4 L328.0,361.4" stroke-width="1.6" fill="none" />
<path d="M238.3,364.0 L328.0,364.0" stroke-width="1.6" fill="none" />
<path d="M238.3,361.4 L238.3,364.0" stroke-width="1.3" fill="none" />
<circle cx="242.2" cy="362.6" r="0.95" stroke-width="0.5" fill="#000"/>
<circle cx="249.3" cy="362.6" r="0.95" stroke-width="0.5" fill="#000"/>
<circle cx="256.4" cy="362.6" r="0.95" stroke-width="0.5" fill="#000"/>
<circle cx="263.5" cy="362.6" r="0.95" stroke-width="0.5" fill="#000"/>
<circle cx="270.7" cy="362.6" r="0.95" stroke-width="0.5" fill="#000"/>
<circle cx="277.8" cy="362.6" r="0.95" stroke-width="0.5" fill="#000"/>
<circle cx="284.9" cy="362.6" r="0.95" stroke-width="0.5" fill="#000"/>
<circle cx="292.0" cy="362.6" r="0.95" stroke-width="0.5" fill="#000"/>
<circle cx="299.1" cy="362.6" r="0.95" stroke-width="0.5" fill="#000"/>
<circle cx="306.2" cy="362.6" r="0.95" stroke-width="0.5" fill="#000"/>
<circle cx="313.3" cy="362.6" r="0.95" stroke-width="0.5" fill="#000"/>
<circle cx="320.4" cy="362.6" r="0.95" stroke-width="0.5" fill="#000"/>
<circle cx="327.5" cy="362.6" r="0.95" stroke-width="0.5" fill="#000"/>
<path d="M310.1,369.3 L328.0,369.3" stroke-width="1.5" fill="none" />
<path d="M310.1,369.3 L310.1,380.0" stroke-width="1.5" fill="none" />
<path d="M310.1,374.8 L328.0,374.8" stroke-width="1.2" fill="none" />
<path d="M228.0,355.8 L231.9,355.8 L231.9,363.7 L228.0,363.7" stroke-width="1.5" fill="none" />
<path d="M235.1,373.2 L245.4,373.2" stroke-width="1.5" fill="none" />
<path d="M235.1,376.4 L245.4,376.4" stroke-width="1.5" fill="none" />
<path d="M328.0,280.0 L343.8,321.9" stroke-width="1.4" fill="none" />
<path d="M334.3,280.0 L349.3,319.5" stroke-width="1.4" fill="none" />
<path d="M342.2,319.5 L345.4,340.0 L348.5,344.8" stroke-width="1.5" fill="none" />
<path d="M344.6,319.5 L350.1,340.0" stroke-width="1.3" fill="none" />
<path d="M343.8,292.6 L395.9,329.0" stroke-width="1.4" fill="none" />
<path d="M343.0,295.0 L394.4,331.3" stroke-width="1.4" fill="none" />
<path d="M347.0,295.0 L350.9,297.7" stroke-width="2.4" fill="none" />
<path d="M351.7,298.3 L355.6,301.0" stroke-width="2.4" fill="none" />
<path d="M356.4,301.6 L360.4,304.3" stroke-width="2.4" fill="none" />
<path d="M361.2,305.0 L365.1,307.6" stroke-width="2.4" fill="none" />
<path d="M365.9,308.3 L369.9,311.0" stroke-width="2.4" fill="none" />
<path d="M370.7,311.6 L374.6,314.3" stroke-width="2.4" fill="none" />
<path d="M375.4,314.9 L379.3,317.6" stroke-width="2.4" fill="none" />
<path d="M380.1,318.2 L384.1,320.9" stroke-width="2.4" fill="none" />
<path d="M384.9,321.5 L388.8,324.2" stroke-width="2.4" fill="none" />
<path d="M389.6,324.9 L393.6,327.6" stroke-width="2.4" fill="none" />
<path d="M339.1,286.3 L425.9,344.8" stroke-width="1.3" fill="none" />
<path d="M351.7,280.0 L428.0,332.1" stroke-width="1.4" fill="none" />
<path d="M359.6,280.0 L428.0,326.6" stroke-width="1.4" fill="none" />
<path d="M369.1,280.0 L428.0,320.3" stroke-width="1.3" fill="none" />
<path d="M395.9,280.0 L428.0,302.1" stroke-width="1.3" fill="none" />
<path d="M410.1,280.0 L428.0,291.8" stroke-width="1.3" fill="none" />
<path d="M350.1,321.1 L410.1,362.1" stroke-width="1.4" fill="none" />
<path d="M348.5,325.0 L407.0,365.3" stroke-width="1.3" fill="none" />
<path d="M343.8,319.5 C345.6,319.9 351.4,320.7 354.9,321.9 C358.3,323.0 360.1,324.1 364.3,326.6 C368.5,329.1 377.5,335.2 380.1,336.9" stroke-width="1.4" fill="none" />
<path d="M395.9,329.0 L400.7,333.7 L428.0,344.8" stroke-width="1.3" fill="none" />
<path d="M328.0,347.9 C328.5,345.8 331.9,346.1 334.3,346.4 C336.7,346.6 340.4,348.2 342.2,349.5 C344.1,350.8 345.6,352.7 345.4,354.2 C345.1,355.8 343.0,358.2 340.6,359.0 C338.3,359.8 333.3,360.8 331.2,359.0 C329.1,357.1 327.5,350.0 328.0,347.9 Z" stroke-width="2.0" fill="none" />
<circle cx="337.5" cy="353.5" r="4.42" stroke-width="2.0" fill="none"/>
<circle cx="337.5" cy="353.5" r="1.90" stroke-width="0.5" fill="#000"/>
<path d="M347.7,346.4 L347.7,361.4" stroke-width="1.3" fill="none" />
<path d="M347.7,346.4 L358.0,342.4 L359.6,346.4" stroke-width="1.4" fill="none" />
<path d="M328.0,361.4 L410.1,361.4" stroke-width="1.6" fill="none" />
<path d="M328.0,364.0 L410.1,364.0" stroke-width="1.6" fill="none" />
<path d="M366.7,368.5 L366.7,380.0" stroke-width="1.4" fill="none" />
<path d="M384.9,362.1 L388.0,368.5" stroke-width="1.3" fill="none" />
<path d="M413.3,346.4 L428.0,346.4" stroke-width="1.6" fill="none" />
<path d="M413.3,346.4 L413.3,380.0" stroke-width="1.8" fill="none" />
<path d="M415.7,349.5 L415.7,380.0" stroke-width="1.2" fill="none" />
<path d="M419.6,354.2 L428.0,354.2 L428.0,368.5 L419.6,368.5" stroke-width="1.4" fill="none" />
<path d="M422.8,357.4 L426.7,357.4 L426.7,365.3 L422.8,365.3 Z" stroke-width="1.3" fill="none" />
<path d="M420.0,265.8 C422.6,266.6 431.1,269.0 435.8,270.5 C440.5,272.1 444.2,273.2 448.4,275.3 C452.6,277.4 457.9,280.9 461.1,283.2 C464.2,285.4 465.0,286.9 467.4,288.7 C469.8,290.5 472.7,292.9 475.3,294.2 C477.9,295.6 480.8,296.6 483.2,296.6 C485.6,296.6 487.7,295.7 489.5,294.2 C491.4,292.8 493.1,290.5 494.2,287.9 C495.4,285.3 496.0,281.9 496.1,278.4 C496.3,275.0 495.9,271.1 495.0,267.4 C494.2,263.7 492.3,259.2 491.1,256.3 C489.9,253.4 488.5,251.1 487.9,250.0" stroke-width="2.0" fill="none" />
<path d="M440.5,272.1 C441.6,273.4 445.1,276.6 446.9,280.0 C448.6,283.4 449.4,288.6 450.8,292.7 C452.2,296.7 453.5,300.8 455.1,304.5 C456.7,308.2 458.2,312.1 460.3,314.8 C462.3,317.4 464.9,319.2 467.4,320.3 C469.9,321.4 472.7,322.0 475.3,321.4 C477.9,320.8 481.1,318.8 483.2,316.7 C485.3,314.5 486.6,311.7 487.9,308.5 C489.2,305.2 490.2,300.0 491.1,297.4 C491.9,294.8 492.7,293.4 493.0,292.7" stroke-width="2.0" fill="none" />
<path d="M467.4,288.7 C466.8,289.6 464.8,292.4 463.9,294.2 C463.1,296.1 462.2,297.7 462.3,299.8 C462.5,301.9 463.4,304.9 465.0,306.9 C466.7,308.8 469.8,311.2 472.1,311.3 C474.4,311.4 477.4,309.3 478.8,307.7 C480.1,306.0 480.7,303.3 480.3,301.3 C480.0,299.4 478.2,297.3 476.9,295.8 C475.5,294.4 472.9,293.2 472.1,292.7" stroke-width="1.4" fill="none" />
<circle cx="434.2" cy="284.0" r="6.00" stroke-width="2.6" fill="none"/>
<circle cx="434.2" cy="284.0" r="1.74" stroke-width="0.5" fill="#000"/>
<circle cx="482.4" cy="283.2" r="5.69" stroke-width="2.6" fill="none"/>
<circle cx="482.4" cy="283.2" r="1.74" stroke-width="0.5" fill="#000"/>
<circle cx="470.6" cy="306.1" r="4.74" stroke-width="2.0" fill="none"/>
<circle cx="470.6" cy="306.1" r="1.58" stroke-width="0.5" fill="#000"/>
<circle cx="461.1" cy="269.7" r="1.42" stroke-width="0.5" fill="#000"/>
<circle cx="487.9" cy="272.1" r="1.42" stroke-width="0.5" fill="#000"/>
<circle cx="470.6" cy="295.8" r="1.26" stroke-width="0.5" fill="#000"/>
<path d="M420.0,291.9 L448.4,291.9" stroke-width="1.4" fill="none" />
<path d="M499.0,250.0 L499.0,278.4" stroke-width="1.2" fill="none" />
<path d="M497.4,275.3 L499.8,276.1 L499.8,281.6 L497.4,282.4" stroke-width="1.4" fill="none" />
<path d="M487.9,310.0 L495.8,350.0" stroke-width="1.5" fill="none" />
<path d="M491.9,308.5 L499.8,350.0" stroke-width="1.4" fill="none" />
<path d="M489.5,297.4 L502.1,350.0" stroke-width="1.2" fill="none" />
<path d="M489.5,313.2 L491.9,314.8" stroke-width="2.2" fill="none" />
<path d="M490.6,318.2 L493.0,319.8" stroke-width="2.2" fill="none" />
<path d="M491.7,323.3 L494.1,324.9" stroke-width="2.2" fill="none" />
<path d="M492.8,328.4 L495.2,329.9" stroke-width="2.2" fill="none" />
<path d="M493.9,333.4 L496.3,335.0" stroke-width="2.2" fill="none" />
<path d="M495.0,338.5 L497.4,340.0" stroke-width="2.2" fill="none" />
<path d="M496.1,343.5 L498.5,345.1" stroke-width="2.2" fill="none" />
<path d="M492.7,300.6 L502.9,300.6" stroke-width="1.6" fill="none" />
<path d="M495.8,302.1 L502.1,302.1" stroke-width="1.2" fill="none" />
<path d="M424.7,250.0 L442.1,261.1 L461.1,283.2" stroke-width="1.4" fill="none" />
<path d="M420.0,256.3 L435.8,267.4" stroke-width="1.3" fill="none" />
<path d="M420.0,254.7 C420.5,254.2 422.0,251.8 423.2,251.6 C424.3,251.3 426.1,252.1 427.1,253.2 C428.2,254.2 429.6,256.5 429.5,257.9 C429.3,259.3 427.6,261.1 426.3,261.8 C425.0,262.6 422.4,262.5 421.6,262.6" stroke-width="2.2" fill="none" />
<path d="M420.0,270.5 L429.5,275.3 L439.0,281.6" stroke-width="1.3" fill="none" />
<path d="M448.4,344.8 L459.5,344.8" stroke-width="1.5" fill="none" />
<path d="M228.0,412.9 L328.0,412.9" stroke-width="1.5" fill="none" />
<path d="M232.7,375.0 L248.5,375.0 L248.5,399.5 L232.7,399.5 Z" stroke-width="1.6" fill="none" />
<path d="M234.3,379.0 L247.0,379.0" stroke-width="1.2" fill="none" />
<path d="M240.6,375.0 L240.6,399.5" stroke-width="1.2" fill="none" />
<path d="M232.7,400.3 L258.0,400.3" stroke-width="2.5" fill="none" />
<path d="M234.3,397.1 L258.0,397.1" stroke-width="1.4" fill="none" />
<path d="M308.6,369.5 L319.6,369.5 L319.6,412.1 L308.6,412.1" stroke-width="1.6" fill="none" />
<path d="M311.7,372.6 L328.0,372.6" stroke-width="1.4" fill="none" />
<path d="M319.6,380.5 L328.0,380.5" stroke-width="1.3" fill="none" />
<path d="M303.8,404.2 L310.1,407.4 L316.5,410.6" stroke-width="2.2" fill="none" />
<path d="M228.0,360.0 L228.0,363.2" stroke-width="2.0" fill="none" />
<path d="M228.0,362.4 L232.7,362.4 L232.7,399.5" stroke-width="1.4" fill="none" />
<path d="M243.8,360.0 L243.8,374.2" stroke-width="1.5" fill="none" />
<path d="M314.6,360.0 L314.6,460.0" stroke-width="1.1" fill="none" />
<path d="M259.3,407.4 L259.3,460.0" stroke-width="1.3" fill="none" />
<path d="M245.8,429.9 L245.8,478.2" stroke-width="1.3" fill="none" />
<path d="M259.3,409.3 L259.3,478.2" stroke-width="1.3" fill="none" />
<path d="M245.8,478.2 L259.3,478.2" stroke-width="1.2" fill="none" />
<path d="M242.2,405.0 L242.2,429.9" stroke-width="3.0" fill="none" />
<path d="M242.2,429.9 L240.8,437.0" stroke-width="1.2" fill="none" />
<circle cx="240.5" cy="437.7" r="0.85" stroke-width="1.3" fill="none"/>
<path d="M252.2,405.0 L252.9,426.3 L255.0,426.3 L254.3,405.0 Z" stroke-width="1.8" fill="none" />
<path d="M241.5,451.9 L241.5,476.1" stroke-width="1.3" fill="none" />
<path d="M242.2,478.9 C242.0,477.8 241.2,474.2 241.1,471.8 C241.0,469.5 241.5,466.7 241.8,464.7 C242.1,462.7 242.7,460.6 242.9,459.7" stroke-width="3.0" fill="none" />
<path d="M247.9,478.9 C247.7,477.8 246.8,474.2 246.8,471.8 C246.7,469.5 247.2,466.7 247.5,464.7 C247.8,462.7 248.4,460.6 248.6,459.7" stroke-width="3.0" fill="none" />
<path d="M253.6,478.9 C253.4,477.8 252.5,474.2 252.5,471.8 C252.4,469.5 252.9,466.7 253.2,464.7 C253.5,462.7 254.1,460.6 254.3,459.7" stroke-width="3.0" fill="none" />
<path d="M244.4,481.1 L255.7,481.1 L255.7,486.0 L244.4,486.0 Z" stroke-width="1.5" fill="none" />
<path d="M238.0,487.8 L262.1,487.8" stroke-width="3.0" fill="none" />
<path d="M473.9,406.5 L473.9,476.7" stroke-width="1.3" fill="none" />
<path d="M488.3,410.3 L488.3,476.7" stroke-width="1.3" fill="none" />
<path d="M473.9,476.7 L488.3,476.7" stroke-width="1.2" fill="none" />
<path d="M479.6,408.4 L480.6,425.5" stroke-width="3.0" fill="none" />
<path d="M491.9,412.2 L492.5,476.7" stroke-width="2.0" fill="none" />
<path d="M490.6,428.3 L493.8,428.3" stroke-width="1.3" fill="none" />
<circle cx="487.6" cy="436.9" r="0.76" stroke-width="1.2" fill="none"/>
<path d="M478.7,476.7 C478.5,475.4 477.6,471.3 477.5,469.1 C477.5,466.9 478.0,465.0 478.3,463.4 C478.6,461.8 479.2,460.3 479.4,459.6" stroke-width="3.0" fill="none" />
<path d="M483.4,476.7 C483.2,475.4 482.3,471.3 482.3,469.1 C482.2,466.9 482.7,465.0 483.0,463.4 C483.3,461.8 484.0,460.3 484.2,459.6" stroke-width="3.0" fill="none" />
<path d="M487.6,476.7 C487.4,475.4 486.5,471.3 486.4,469.1 C486.4,466.9 486.9,465.0 487.2,463.4 C487.5,461.8 488.2,460.3 488.3,459.6" stroke-width="3.0" fill="none" />
<path d="M477.7,481.4 L489.1,481.4 L489.1,486.2 L477.7,486.2 Z" stroke-width="1.5" fill="none" />
<path d="M471.7,488.2 L494.8,488.2" stroke-width="3.0" fill="none" />
<path d="M475.8,408.4 L499.5,411.3" stroke-width="1.5" fill="none" />
<path d="M497.6,408.4 L502.4,411.3" stroke-width="2.0" fill="none" />
<path d="M320.0,369.7 L411.0,369.7" stroke-width="2.0" fill="none" />
<path d="M320.0,379.2 L414.8,379.2" stroke-width="3.2" fill="none" />
<path d="M320.0,412.3 L414.8,412.3" stroke-width="2.6" fill="none" />
<path d="M321.3,380.2 L321.3,412.1" stroke-width="2.2" fill="none" />
<path d="M337.7,380.2 L337.7,412.1" stroke-width="2.2" fill="none" />
<path d="M397.1,380.2 L397.1,412.1" stroke-width="2.2" fill="none" />
<path d="M413.8,380.2 L413.8,412.1" stroke-width="2.2" fill="none" />
<path d="M385.7,363.4 L395.9,368.4" stroke-width="1.3" fill="none" />
<path d="M367.4,366.5 L367.4,420.0" stroke-width="1.1" fill="none" />
<path d="M350.3,347.6 L357.9,342.5 L361.7,352.6 L361.7,361.5" stroke-width="1.4" fill="none" />
<path d="M347.8,348.8 L347.8,361.5" stroke-width="1.3" fill="none" />
<path d="M413.6,347.6 L413.6,412.3" stroke-width="2.4" fill="none" />
<path d="M417.3,347.6 L417.3,412.3" stroke-width="1.5" fill="none" />
<path d="M416.4,346.8 L458.3,346.8 L458.3,408.9 L416.4,408.9 Z" stroke-width="2.2" fill="none" />
<path d="M451.9,344.2 L458.3,346.8" stroke-width="1.5" fill="none" />
<path d="M419.2,353.5 C418.3,356.7 415.7,369.5 419.2,372.7 C422.8,375.9 437.0,374.3 440.6,372.7 C444.1,371.0 441.0,365.3 440.6,362.7 C440.1,360.1 439.1,358.4 437.7,357.0 C436.3,355.6 434.2,354.8 432.0,354.2 C429.9,353.6 427.0,353.6 424.9,353.5 C422.8,353.4 420.2,350.3 419.2,353.5 Z" stroke-width="1.8" fill="none" />
<path d="M422.1,357.0 L425.2,357.0 L425.2,360.2 L422.1,360.2 Z" stroke-width="1.5" fill="none" />
<path d="M426.3,357.0 L429.5,357.0 L429.5,360.2 L426.3,360.2 Z" stroke-width="1.5" fill="none" />
<path d="M430.6,358.4 L433.7,358.4 L433.7,361.6 L430.6,361.6 Z" stroke-width="1.5" fill="none" />
<path d="M423.5,362.0 L426.6,362.0 L426.6,365.1 L423.5,365.1 Z" stroke-width="1.5" fill="none" />
<path d="M427.8,362.0 L430.9,362.0 L430.9,365.1 L427.8,365.1 Z" stroke-width="1.5" fill="none" />
<path d="M432.0,362.7 L435.2,362.7 L435.2,365.8 L432.0,365.8 Z" stroke-width="1.5" fill="none" />
<path d="M419.2,370.5 L440.6,370.5" stroke-width="1.5" fill="none" />
<path d="M439.9,378.4 C438.8,378.1 435.7,376.5 433.4,376.7 C431.2,376.8 428.2,377.4 426.3,379.1 C424.4,380.8 422.3,384.2 422.1,386.9 C421.8,389.6 423.0,393.5 424.9,395.4 C426.8,397.3 431.0,398.0 433.4,398.3 C435.9,398.5 438.8,397.1 439.9,396.9" stroke-width="1.5" fill="none" />
<path d="M439.9,376.9 L439.9,398.3" stroke-width="1.4" fill="none" />
<path d="M426.3,396.9 L439.1,396.9" stroke-width="1.4" fill="none" />
<circle cx="422.8" cy="404.4" r="1.28" stroke-width="0.5" fill="#000"/>
<circle cx="427.0" cy="404.4" r="1.28" stroke-width="0.5" fill="#000"/>
<circle cx="431.3" cy="404.4" r="1.42" stroke-width="0.5" fill="#000"/>
<circle cx="435.6" cy="404.4" r="1.71" stroke-width="0.5" fill="#000"/>
<circle cx="442.7" cy="376.2" r="1.14" stroke-width="0.5" fill="#000"/>
<circle cx="442.7" cy="404.7" r="1.14" stroke-width="0.5" fill="#000"/>
<path d="M412.8,349.9 L412.8,412.5" stroke-width="2.0" fill="none" />
<path d="M415.2,351.3 L415.2,412.5" stroke-width="1.5" fill="none" />
<path d="M405.0,369.8 L412.8,369.8" stroke-width="1.4" fill="none" />
<path d="M405.0,378.4 L412.8,378.4" stroke-width="2.0" fill="none" />
<path d="M405.0,408.9 L416.4,408.9 L416.4,413.9 L419.2,413.9" stroke-width="1.4" fill="none" />
<path d="M490.3,330.0 C491.2,333.6 495.0,344.5 495.3,351.3 C495.7,358.2 493.7,365.6 492.5,371.3 C491.3,376.9 490.0,381.4 488.2,385.5 C486.4,389.5 482.9,393.8 481.8,395.4" stroke-width="1.5" fill="none" />
<path d="M484.7,368.4 C485.4,369.8 488.6,373.9 488.9,376.9 C489.3,380.0 488.2,383.8 486.8,386.9 C485.4,390.0 482.6,393.3 480.4,395.4 C478.1,397.6 474.5,399.0 473.3,399.7" stroke-width="1.5" fill="none" />
<path d="M469.7,364.1 L476.1,353.5 L481.8,358.4 L476.1,362.7 Z" stroke-width="1.5" fill="none" />
<path d="M486.1,360.6 L491.8,356.3 L496.7,363.4 L491.1,367.7 Z" stroke-width="1.6" fill="none" />
<path d="M419.2,330.0 L451.9,344.2" stroke-width="1.3" fill="none" />
<path d="M430.6,330.0 L464.7,352.8" stroke-width="1.3" fill="none" />
<path d="M447.7,330.0 L476.1,349.9" stroke-width="1.3" fill="none" />
<path d="M459.1,330.0 L481.8,347.1" stroke-width="1.3" fill="none" />
<path d="M405.0,337.1 L416.4,346.4" stroke-width="1.3" fill="none" />
<path d="M405.0,345.6 L413.5,351.3" stroke-width="1.3" fill="none" />
<path d="M405.0,355.6 L412.1,359.9" stroke-width="1.3" fill="none" />
<path d="M464.7,379.8 L476.1,386.9" stroke-width="1.4" fill="none" />
<path d="M463.3,384.1 L474.7,391.2" stroke-width="1.4" fill="none" />
<path d="M459.1,388.3 C460.7,389.2 465.7,391.6 469.0,393.3 C472.3,395.0 476.4,396.3 479.0,398.3 C481.6,400.3 483.7,404.2 484.7,405.4" stroke-width="1.3" fill="none" />
<path d="M459.1,391.5 C460.7,392.2 465.7,394.4 469.0,395.9 C472.3,397.3 476.4,398.5 479.0,400.3 C481.6,402.0 483.7,405.5 484.7,406.5" stroke-width="1.3" fill="none" />
<path d="M459.1,394.6 C460.7,395.2 465.7,397.1 469.0,398.4 C472.3,399.7 476.4,400.7 479.0,402.3 C481.6,403.8 483.7,406.8 484.7,407.7" stroke-width="1.3" fill="none" />
<path d="M459.1,397.7 C460.7,398.3 465.7,399.9 469.0,401.0 C472.3,402.1 476.4,402.9 479.0,404.3 C481.6,405.6 483.7,408.0 484.7,408.8" stroke-width="1.3" fill="none" />
<path d="M459.1,365.6 C460.0,366.5 463.3,369.8 464.7,371.3 C466.2,372.7 468.1,373.6 467.6,374.1 C467.1,374.6 462.8,374.1 461.9,374.1" stroke-width="1.8" fill="none" />
<path d="M484.7,396.9 L496.0,401.1" stroke-width="1.4" fill="none" />
<path d="M486.1,400.4 L496.0,404.0" stroke-width="1.4" fill="none" />
<path d="M498.2,330.0 L498.2,409.7" stroke-width="2.0" fill="none" />
<circle cx="476.8" cy="371.3" r="0.85" stroke-width="0.5" fill="#000"/>
<path d="M316.5,214.3 L344.2,322.7" stroke-width="1.5" fill="none" />
<path d="M320.9,243.1 L346.4,320.5" stroke-width="1.5" fill="none" />
<path d="M327.6,245.3 L336.4,245.3 L336.4,251.9 L333.1,251.9 L333.1,260.8 L327.6,260.8" stroke-width="1.4" fill="none" />
<path d="M378.5,277.4 L387.3,267.4 L405.0,271.4 L410.5,285.1 L405.0,301.7 L390.6,305.5 L380.7,294.0 Z" stroke-width="2.0" fill="none" />
<path d="M380.7,269.6 L384.0,302.8" stroke-width="1.4" fill="none" />
<path d="M383.8,270.5 L387.1,302.4" stroke-width="1.4" fill="none" />
<path d="M386.9,271.4 L390.2,301.9" stroke-width="1.4" fill="none" />
<path d="M390.0,272.3 L393.3,301.5" stroke-width="1.4" fill="none" />
<path d="M393.1,273.2 L396.4,301.1" stroke-width="1.4" fill="none" />
<path d="M396.2,274.1 L399.5,300.6" stroke-width="1.4" fill="none" />
<path d="M399.2,275.0 L402.6,300.2" stroke-width="1.4" fill="none" />
<path d="M402.3,275.8 L405.7,299.7" stroke-width="1.4" fill="none" />
<path d="M382.9,281.8 L388.2,281.8 L388.2,288.5 L382.9,288.5 Z" stroke-width="2.0" fill="none" />
<path d="M384.2,283.6 L386.9,283.6" stroke-width="2.5" fill="none" />
<path d="M382.9,290.2 L388.2,290.2 L388.2,296.9 L382.9,296.9 Z" stroke-width="2.0" fill="none" />
<path d="M384.2,292.0 L386.9,292.0" stroke-width="2.5" fill="none" />
<path d="M390.0,283.6 L395.3,283.6 L395.3,290.2 L390.0,290.2 Z" stroke-width="2.0" fill="none" />
<path d="M391.3,285.4 L393.9,285.4" stroke-width="2.5" fill="none" />
<path d="M390.0,292.0 L395.3,292.0 L395.3,298.6 L390.0,298.6 Z" stroke-width="2.0" fill="none" />
<path d="M391.3,293.8 L393.9,293.8" stroke-width="2.5" fill="none" />
<path d="M397.0,285.4 L402.3,285.4 L402.3,292.0 L397.0,292.0 Z" stroke-width="2.0" fill="none" />
<path d="M398.4,287.1 L401.0,287.1" stroke-width="2.5" fill="none" />
<path d="M397.0,293.8 L402.3,293.8 L402.3,300.4 L397.0,300.4 Z" stroke-width="2.0" fill="none" />
<path d="M398.4,295.5 L401.0,295.5" stroke-width="2.5" fill="none" />
<path d="M375.1,280.7 L384.0,275.2" stroke-width="2.0" fill="none" />
<path d="M372.9,274.1 L379.6,269.6" stroke-width="1.6" fill="none" />
<path d="M397.3,245.3 C398.4,244.6 400.6,241.3 403.9,240.9 C407.2,240.5 413.5,241.3 417.2,243.1 C420.9,244.9 424.9,248.6 426.0,251.9 C427.1,255.3 425.6,260.4 423.8,263.0 C422.0,265.6 418.3,267.1 415.0,267.4 C411.6,267.8 405.7,265.6 403.9,265.2" stroke-width="1.6" fill="none" />
<path d="M233.8,375.0 L254.8,375.0 L254.8,402.7 L233.8,402.7 Z" stroke-width="1.8" fill="none" />
<path d="M238.3,375.0 L238.3,402.7" stroke-width="1.3" fill="none" />
<path d="M247.1,375.0 L247.1,402.7" stroke-width="1.3" fill="none" />
<path d="M233.8,383.9 L254.8,383.9" stroke-width="1.3" fill="none" />
<path d="M233.8,394.9 L254.8,394.9" stroke-width="1.3" fill="none" />
<path d="M236.0,377.2 L252.6,377.2" stroke-width="2.2" fill="none" />
<path d="M255.9,370.6 C257.0,368.7 258.9,368.4 262.6,368.0 C266.3,367.5 275.2,366.8 278.0,368.0 C280.9,369.1 279.6,372.4 279.8,375.0 C280.0,377.7 282.8,382.2 279.1,383.9 C275.5,385.5 262.0,385.7 258.1,385.0 C254.3,384.2 256.3,381.8 255.9,379.4 C255.6,377.1 254.8,372.5 255.9,370.6 Z" stroke-width="2.0" fill="none" />
<circle cx="270.3" cy="375.0" r="4.42" stroke-width="2.2" fill="none"/>
<circle cx="270.3" cy="375.0" r="1.55" stroke-width="0.5" fill="#000"/>
<path d="M258.1,372.8 L267.0,372.8" stroke-width="2.0" fill="none" />
<path d="M260.4,379.4 L267.0,380.6" stroke-width="2.0" fill="none" />
<path d="M259.3,385.0 C259.3,388.8 258.7,403.9 259.3,408.2 C259.8,412.5 260.9,410.4 262.6,410.8 C264.2,411.3 267.5,411.3 269.2,410.8 C270.9,410.4 272.0,412.5 272.5,408.2 C273.1,403.9 272.5,388.8 272.5,385.0" stroke-width="1.8" fill="none" />
<path d="M260.4,407.1 L271.4,407.1" stroke-width="1.4" fill="none" />
<path d="M274.7,385.6 C277.5,385.3 286.7,383.4 291.3,383.9 C295.9,384.3 299.0,386.4 302.3,388.3 C305.7,390.1 310.1,393.8 311.6,394.9" stroke-width="2.2" fill="none" />
<path d="M274.7,389.6 C277.5,389.4 286.7,387.8 291.3,388.3 C295.9,388.7 299.0,390.6 302.3,392.3 C305.7,393.9 310.1,397.2 311.6,398.2" stroke-width="1.5" fill="none" />
<path d="M274.7,393.6 C277.5,393.4 286.7,392.3 291.3,392.7 C295.9,393.1 299.0,394.8 302.3,396.2 C305.7,397.7 310.1,400.7 311.6,401.5" stroke-width="2.2" fill="none" />
<path d="M274.7,397.6 C277.5,397.5 286.7,396.7 291.3,397.1 C295.9,397.6 299.0,398.9 302.3,400.2 C305.7,401.5 310.1,404.1 311.6,404.9" stroke-width="1.5" fill="none" />
<path d="M278.0,377.2 L309.0,377.2" stroke-width="1.8" fill="none" />
<path d="M278.0,380.6 L291.3,380.6" stroke-width="1.4" fill="none" />
<path d="M309.0,368.4 L309.0,412.6" stroke-width="2.0" fill="none" />
<path d="M307.2,372.8 L312.3,372.8" stroke-width="1.5" fill="none" />
<path d="M309.0,394.9 C309.5,396.4 311.2,401.4 312.3,403.8 C313.4,406.2 315.1,408.4 315.6,409.3" stroke-width="2.2" fill="none" />
<path d="M297.9,367.3 L309.0,367.3" stroke-width="1.4" fill="none" />
<path d="M291.3,370.6 L297.9,367.3" stroke-width="1.4" fill="none" />
<path d="M262.0,123.2 C260.2,125.3 253.7,129.9 251.5,135.9 C249.4,142.0 249.6,153.1 249.3,159.6 C248.9,166.1 249.6,172.3 249.6,174.8" stroke-width="1.5" fill="none" />
<path d="M249.6,174.8 C251.5,175.2 257.2,175.6 261.0,177.1 C264.8,178.5 269.4,180.9 272.4,183.3 C275.4,185.8 277.4,189.1 279.0,191.8 C280.6,194.6 281.4,198.6 281.9,200.0" stroke-width="1.5" fill="none" />
<path d="M236.4,171.0 C237.0,169.1 238.6,162.8 240.2,159.6 C241.7,156.5 244.4,154.9 245.9,152.0 C247.3,149.2 248.2,144.1 248.7,142.6" stroke-width="1.6" fill="none" />
<path d="M238.3,178.6 C239.1,177.0 241.4,171.9 243.0,169.1 C244.6,166.3 247.0,162.8 247.7,161.5" stroke-width="1.8" fill="none" />
<path d="M240.2,186.2 C241.1,184.3 244.1,177.6 245.9,174.8 C247.6,171.9 249.8,170.0 250.6,169.1" stroke-width="1.6" fill="none" />
<path d="M465.4,96.1 L472.1,96.1 L472.1,116.0 L468.8,117.9 L468.8,136.8" stroke-width="1.8" fill="none" />
<path d="M465.4,96.1 L465.4,104.6" stroke-width="1.6" fill="none" />
<path d="M459.4,104.6 C459.8,102.8 461.3,102.4 462.2,102.4 C463.2,102.4 464.6,102.8 465.0,104.6 C465.5,106.4 465.5,111.3 465.0,113.2 C464.6,115.1 463.2,116.0 462.2,116.0 C461.3,116.0 459.8,115.1 459.4,113.2 C458.9,111.3 458.9,106.4 459.4,104.6 Z" stroke-width="1.8" fill="none" />
<circle cx="462.2" cy="106.5" r="1.33" stroke-width="1.4" fill="none"/>
<circle cx="462.2" cy="111.3" r="1.33" stroke-width="1.4" fill="none"/>
<path d="M387.4,95.2 L470.7,98.0" stroke-width="2.0" fill="none" />
<path d="M386.4,98.9 L465.0,100.8" stroke-width="1.6" fill="none" />
<path d="M385.5,98.9 L385.5,108.4" stroke-width="1.6" fill="none" />
<path d="M413.5,293.5 L449.1,293.5" stroke-width="1.5" fill="none" />
<path d="M413.5,293.5 L493.2,351.1" stroke-width="1.5" fill="none" />
<path d="M403.5,295.6 L471.8,344.7" stroke-width="1.5" fill="none" />
<path d="M395.0,299.2 L457.6,344.3" stroke-width="1.5" fill="none" />
<path d="M395.0,308.4 L441.9,342.6" stroke-width="1.5" fill="none" />
<path d="M395.0,313.0 L437.7,344.0" stroke-width="1.5" fill="none" />
<path d="M395.0,322.7 L423.4,343.3" stroke-width="1.5" fill="none" />
<path d="M395.0,326.9 L418.5,344.0" stroke-width="1.5" fill="none" />
<path d="M400.7,332.6 L414.9,342.6" stroke-width="1.3" fill="none" />
<path d="M402.1,333.8 L403.5,332.9" stroke-width="1.5" fill="none" />
<path d="M404.2,335.3 L405.7,334.5" stroke-width="1.5" fill="none" />
<path d="M406.4,336.9 L407.8,336.0" stroke-width="1.5" fill="none" />
<path d="M408.5,338.5 L409.9,337.6" stroke-width="1.5" fill="none" />
<path d="M410.6,340.0 L412.1,339.2" stroke-width="1.5" fill="none" />
<path d="M412.8,341.6 L414.2,340.7" stroke-width="1.5" fill="none" />
<path d="M486.7,312.7 L493.2,351.1" stroke-width="1.5" fill="none" />
<path d="M470.4,362.5 L476.8,352.5 L483.2,357.5 L478.9,365.3 Z" stroke-width="1.6" fill="none" />
<path d="M486.0,359.7 L493.2,356.1 L496.0,363.9 L488.9,367.5 Z" stroke-width="1.8" fill="none" />
<circle cx="490.6" cy="362.2" r="1.71" stroke-width="0.5" fill="#000"/>
<path d="M368.0,205.2 C368.9,205.7 371.4,207.3 373.1,208.3 C374.8,209.3 377.3,210.8 378.2,211.2" stroke-width="1.5" fill="none" />
<path d="M331.4,207.1 L340.9,217.2" stroke-width="1.5" fill="none" />
<path d="M339.0,224.1 L385.7,257.0" stroke-width="2.0" fill="none" />
<path d="M332.6,219.1 L337.7,217.8 L342.1,224.8 L337.1,226.7 Z" stroke-width="1.8" fill="none" />
<path d="M380.7,253.8 L387.0,251.9 L390.2,258.9 L383.8,260.8 Z" stroke-width="1.8" fill="none" />
<path d="M327.0,128.0 C333.3,130.8 352.5,139.2 365.0,144.5 C377.5,149.8 394.5,156.5 402.2,159.8 C409.9,163.1 407.8,162.3 411.1,164.5 C414.4,166.7 418.4,169.8 422.1,172.7 C425.8,175.6 428.7,177.8 433.2,182.1 C437.7,186.4 442.0,191.5 449.0,198.5 C456.0,205.5 471.0,220.0 475.4,224.3" stroke-width="2.0" fill="none" />
<path d="M475.4,225.0 L485.0,244.0 L492.0,260.0" stroke-width="1.4" fill="none" />
<path d="M477.0,228.0 L489.0,240.0 L486.0,245.5" stroke-width="1.3" fill="none" />
<path d="M277.3,390.1 C278.7,388.5 283.6,388.8 286.8,389.1 C289.9,389.4 292.9,390.7 296.2,392.0 C299.6,393.2 303.8,394.7 306.7,396.7 C309.5,398.8 312.5,402.2 313.3,404.3 C314.1,406.3 312.7,408.7 311.4,409.0 C310.1,409.3 307.6,407.6 305.7,406.2 C303.8,404.8 302.7,401.8 300.0,400.5 C297.4,399.2 293.2,398.9 289.6,398.6 C286.0,398.3 280.3,400.0 278.2,398.6 C276.2,397.2 275.9,391.7 277.3,390.1 Z" stroke-width="1.2" fill="#3a3a3a" />
<path d="M279.2,392.0 C280.9,391.8 286.1,390.5 289.6,391.0 C293.1,391.5 298.3,394.2 300.0,394.8" stroke-width="1.2" fill="none" />
<circle cx="259.3" cy="369.2" r="1.71" stroke-width="2.2" fill="none"/>
<circle cx="270.7" cy="368.3" r="1.71" stroke-width="2.2" fill="none"/>
<circle cx="267.8" cy="376.8" r="1.71" stroke-width="2.2" fill="none"/>
<circle cx="275.4" cy="378.7" r="1.71" stroke-width="2.2" fill="none"/>
<circle cx="258.3" cy="379.6" r="1.71" stroke-width="2.2" fill="none"/>
<path d="M264.0,371.1 L264.0,383.4" stroke-width="2.4" fill="none" />
<path d="M273.5,369.2 L273.5,385.3" stroke-width="2.4" fill="none" />
<path d="M233.7,374.9 L256.4,374.9" stroke-width="3.0" fill="none" />
<path d="M233.7,400.5 L258.3,400.5" stroke-width="2.6" fill="none" />
<path d="M279.2,374.0 L307.6,374.0" stroke-width="3.0" fill="none" />
<line x1="707.6" y1="108.5" x2="757.1" y2="108.5" stroke-width="1.3" />
<line x1="764.6" y1="108.5" x2="772.6" y2="108.5" stroke-width="1.3" />
<line x1="780.1" y1="108.5" x2="788.2" y2="108.5" stroke-width="1.3" />
<line x1="796.4" y1="108.5" x2="804" y2="108.5" stroke-width="1.3" />
<line x1="882.3" y1="108.5" x2="890.3" y2="108.5" stroke-width="1.3" />
<line x1="897.8" y1="108.5" x2="905.9" y2="108.5" stroke-width="1.3" />
<line x1="912" y1="108.5" x2="918" y2="108.5" stroke-width="1.3" />
<line x1="925.4" y1="108.5" x2="981.4" y2="108.5" stroke-width="1.3" />
<path d="M707.6,108.5 L724.1,182.4" stroke-width="1.3" fill="none" stroke-dasharray="30,6,10,6"/>
<path d="M981.4,108.5 L966.3,182.9" stroke-width="1.3" fill="none" stroke-dasharray="30,6,10,6"/>
<line x1="966.3" y1="182.9" x2="950.5" y2="191.6" stroke-width="1.3" />
<line x1="950.5" y1="191.6" x2="938.7" y2="214.5" stroke-width="1.3" />
<path d="M724.1,182.4 L722.0,182.4" stroke-width="1.3" fill="none" stroke-dasharray="30,6,10,6"/>
<line x1="923" y1="182.9" x2="966.3" y2="182.9" stroke-width="1.3" />
<line x1="739.5" y1="191.6" x2="765" y2="191.6" stroke-width="1.3" />
<line x1="923" y1="191.6" x2="950.5" y2="191.6" stroke-width="1.3" />
<path d="M938.7,214.5 L924.9,337.0" stroke-width="1.3" fill="none" stroke-dasharray="30,6,10,6"/>
<path d="M844.5,68.5 L844.5,533.5" stroke-width="1.1" fill="none" stroke-dasharray="60,4,6,4"/>
<line x1="919.7" y1="56" x2="919.7" y2="155" stroke-width="1.1" />
<path d="M829.5,140.0 L860.0,140.0" stroke-width="1.4" fill="none" />
<path d="M829.5,143.2 L860.0,143.2" stroke-width="1.6" fill="none" />
<path d="M804.2,180 L804.2,113.5 A3.2,3.2 0 0 1 810.6,113.5 L810.6,180" stroke-width="1.8" fill="#fff" />
<path d="M812.1,111.6 L812.1,180.0" stroke-width="1.4" fill="none" />
<path d="M814.5,111.6 L814.5,180.0" stroke-width="1.4" fill="none" />
<path d="M817.7,111.6 L817.7,180.0" stroke-width="1.4" fill="none" />
<path d="M823.2,111.6 L823.2,180.0" stroke-width="1.4" fill="none" />
<path d="M826.4,111.6 L826.4,180.0" stroke-width="1.4" fill="none" />
<path d="M814.5,129.0 L823.2,130.6" stroke-width="2.0" fill="none" />
<path d="M814.5,133.2 L823.2,134.8" stroke-width="2.0" fill="none" />
<path d="M814.5,137.5 L823.2,139.1" stroke-width="2.0" fill="none" />
<path d="M814.5,141.8 L823.2,143.3" stroke-width="2.0" fill="none" />
<path d="M814.5,146.0 L823.2,147.6" stroke-width="2.0" fill="none" />
<path d="M814.5,150.3 L823.2,151.9" stroke-width="2.0" fill="none" />
<path d="M814.5,154.6 L823.2,156.1" stroke-width="2.0" fill="none" />
<path d="M814.5,158.8 L823.2,160.4" stroke-width="2.0" fill="none" />
<path d="M814.5,163.1 L823.2,164.7" stroke-width="2.0" fill="none" />
<path d="M814.5,167.4 L823.2,168.9" stroke-width="2.0" fill="none" />
<path d="M814.5,171.6 L823.2,173.2" stroke-width="2.0" fill="none" />
<path d="M814.5,175.9 L823.2,177.5" stroke-width="2.0" fill="none" />
<path d="M812.1,124.2 L826.4,124.2" stroke-width="1.6" fill="none" />
<path d="M812.1,127.4 L826.4,127.4" stroke-width="1.6" fill="none" />
<path d="M770.3,118.7 L802.7,118.7 L802.7,136.1 L770.3,136.1 Z" stroke-width="1.7" fill="none" />
<path d="M777.4,120.8 L796.3,120.8" stroke-width="1.5" fill="none" />
<path d="M769.5,138.5 L802.7,138.5" stroke-width="1.6" fill="none" />
<path d="M772.6,142.4 L801.1,142.4" stroke-width="1.4" fill="none" />
<path d="M772.6,144.8 L801.1,144.8" stroke-width="1.2" fill="none" />
<path d="M771.8,138.5 L771.8,180.0" stroke-width="1.6" fill="none" />
<path d="M775.0,138.5 L775.0,180.0" stroke-width="1.6" fill="none" />
<path d="M796.3,138.5 L796.3,180.0" stroke-width="1.6" fill="none" />
<path d="M799.5,138.5 L799.5,180.0" stroke-width="1.6" fill="none" />
<path d="M773.4,152.7 L777.4,152.7 L777.4,162.1 L773.4,162.1 Z" stroke-width="1.5" fill="none" />
<path d="M795.5,152.7 L799.5,152.7 L799.5,162.1 L795.5,162.1 Z" stroke-width="1.5" fill="none" />
<path d="M777.4,180.0 C777.6,178.1 777.9,170.9 779.0,168.5 C780.0,166.0 781.6,165.8 783.7,165.3 C785.8,164.8 789.6,164.8 791.6,165.3 C793.6,165.8 794.8,166.0 795.5,168.5 C796.3,170.9 796.2,178.1 796.3,180.0" stroke-width="1.5" fill="none" />
<path d="M770.3,127.4 L767.6,127.4 L767.6,132.1 L770.3,132.1" stroke-width="1.8" fill="none" />
<path d="M770.3,139.2 L767.6,139.2 L767.6,146.4 L770.3,146.4" stroke-width="1.8" fill="none" />
<path d="M770.3,162.1 L767.6,162.1 L767.6,168.5 L770.3,168.5" stroke-width="1.8" fill="none" />
<path d="M829.5,154.2 C830.6,154.8 833.2,156.4 835.8,157.4 C838.5,158.5 842.1,160.6 845.3,160.6 C848.5,160.6 852.3,158.5 854.8,157.4 C857.2,156.4 859.1,154.8 860.0,154.2" stroke-width="1.6" fill="none" />
<path d="M829.5,159.0 C831.1,159.5 836.4,161.4 839.0,162.1 C841.6,162.9 842.7,163.7 845.3,163.7 C847.9,163.7 852.3,162.8 854.8,162.1 C857.2,161.5 859.1,160.2 860.0,159.8" stroke-width="1.4" fill="none" />
<path d="M831.9,163.7 L831.9,180.0" stroke-width="1.6" fill="none" />
<path d="M837.4,163.7 L837.4,180.0" stroke-width="1.6" fill="none" />
<path d="M840.6,163.7 L840.6,180.0" stroke-width="1.6" fill="none" />
<path d="M847.7,163.7 L847.7,180.0" stroke-width="1.6" fill="none" />
<path d="M850.8,163.7 L850.8,180.0" stroke-width="1.6" fill="none" />
<path d="M856.4,163.7 L856.4,180.0" stroke-width="1.6" fill="none" />
<path d="M829.5,146.4 L829.5,180.0" stroke-width="1.6" fill="none" />
<path d="M834.2,143.2 L834.2,180.0" stroke-width="1.3" fill="none" />
<path d="M843.7,168.5 L846.1,180.0" stroke-width="1.4" fill="none" />
<path d="M848.5,168.5 L850.8,180.0" stroke-width="1.4" fill="none" />
<path d="M920.3,80.0 L920.3,125.8" stroke-width="1.1" fill="none" />
<path d="M840.0,143.2 L859.0,143.2" stroke-width="1.6" fill="none" />
<path d="M840.0,155.8 C841.6,156.4 846.3,159.3 849.5,159.0 C852.6,158.7 857.4,155.0 859.0,154.2" stroke-width="1.6" fill="none" />
<path d="M874.8,100.5 L874.8,180.0" stroke-width="1.8" fill="none" />
<path d="M877.9,100.5 L877.9,180.0" stroke-width="1.8" fill="none" />
<path d="M881.4,100.5 L881.4,180.0" stroke-width="1.8" fill="none" />
<path d="M874.8,103.7 L881.4,103.7" stroke-width="1.4" fill="none" />
<path d="M874.8,122.7 L881.4,122.7" stroke-width="1.4" fill="none" />
<path d="M874.8,140.0 L881.4,140.0" stroke-width="1.4" fill="none" />
<path d="M874.8,154.2 L881.4,154.2" stroke-width="1.4" fill="none" />
<path d="M874.8,168.5 L881.4,168.5" stroke-width="1.4" fill="none" />
<path d="M860.5,124.2 L860.5,180.0" stroke-width="1.8" fill="none" />
<path d="M863.7,124.2 L863.7,180.0" stroke-width="1.8" fill="none" />
<path d="M867.6,124.2 L867.6,180.0" stroke-width="1.8" fill="none" />
<path d="M870.8,124.2 L870.8,180.0" stroke-width="1.8" fill="none" />
<path d="M861.3,127.4 L870.0,128.7" stroke-width="2.2" fill="none" />
<path d="M861.3,131.8 L870.0,133.1" stroke-width="2.2" fill="none" />
<path d="M861.3,136.2 L870.0,137.5" stroke-width="2.2" fill="none" />
<path d="M861.3,140.7 L870.0,141.9" stroke-width="2.2" fill="none" />
<path d="M861.3,145.1 L870.0,146.4" stroke-width="2.2" fill="none" />
<path d="M861.3,149.5 L870.0,150.8" stroke-width="2.2" fill="none" />
<path d="M861.3,153.9 L870.0,155.2" stroke-width="2.2" fill="none" />
<path d="M861.3,158.4 L870.0,159.6" stroke-width="2.2" fill="none" />
<path d="M861.3,162.8 L870.0,164.0" stroke-width="2.2" fill="none" />
<path d="M861.3,167.2 L870.0,168.5" stroke-width="2.2" fill="none" />
<path d="M861.3,171.6 L870.0,172.9" stroke-width="2.2" fill="none" />
<path d="M861.3,176.1 L870.0,177.3" stroke-width="2.2" fill="none" />
<path d="M885.8,118.7 L918.2,118.7 L918.2,136.1 L885.8,136.1 Z" stroke-width="1.7" fill="none" />
<path d="M893.7,120.8 L911.1,120.8" stroke-width="1.5" fill="none" />
<path d="M887.4,138.5 L917.4,138.5" stroke-width="1.6" fill="none" />
<path d="M889.0,142.4 L915.8,142.4" stroke-width="1.4" fill="none" />
<path d="M889.0,144.8 L915.8,144.8" stroke-width="1.2" fill="none" />
<path d="M887.4,138.5 L887.4,180.0" stroke-width="1.6" fill="none" />
<path d="M890.6,138.5 L890.6,180.0" stroke-width="1.6" fill="none" />
<path d="M913.5,138.5 L913.5,180.0" stroke-width="1.6" fill="none" />
<path d="M916.6,138.5 L916.6,180.0" stroke-width="1.6" fill="none" />
<path d="M889.0,152.7 L892.9,152.7 L892.9,162.1 L889.0,162.1 Z" stroke-width="1.5" fill="none" />
<path d="M911.9,152.7 L915.8,152.7 L915.8,162.1 L911.9,162.1 Z" stroke-width="1.5" fill="none" />
<path d="M892.9,180.0 C893.1,178.1 892.8,170.9 893.7,168.5 C894.6,166.0 896.3,165.8 898.5,165.3 C900.6,164.8 904.2,164.8 906.4,165.3 C908.5,165.8 910.2,166.0 911.1,168.5 C912.0,170.9 911.7,178.1 911.9,180.0" stroke-width="1.5" fill="none" />
<path d="M918.2,137.7 L926.1,137.7 L926.1,156.6 L918.2,156.6" stroke-width="1.5" fill="none" />
<path d="M918.2,125.8 L918.2,180.0" stroke-width="2.4" fill="none" />
<path d="M855.8,162.1 L855.8,180.0" stroke-width="1.6" fill="none" />
<path d="M849.5,168.5 L849.5,180.0" stroke-width="1.6" fill="none" />
<path d="M769.5,170.0 L769.5,212.7" stroke-width="1.6" fill="none" />
<path d="M771.8,170.0 L771.8,212.7" stroke-width="1.6" fill="none" />
<path d="M775.0,170.0 L775.0,212.7" stroke-width="1.6" fill="none" />
<path d="M777.4,170.0 L777.4,212.7" stroke-width="1.6" fill="none" />
<path d="M777.4,170.0 L783.7,190.5 L785.3,195.3" stroke-width="1.5" fill="none" />
<path d="M779.7,170.0 L786.1,192.1" stroke-width="1.2" fill="none" />
<path d="M783.7,195.3 L796.3,195.3 L796.3,211.1 L783.7,211.1" stroke-width="1.5" fill="none" />
<path d="M760.0,211.9 L797.9,211.9" stroke-width="2.6" fill="none" />
<path d="M760.0,215.0 L797.9,215.0" stroke-width="1.6" fill="none" />
<path d="M760.0,193.7 L769.5,193.7" stroke-width="1.5" fill="none" />
<path d="M760.0,179.5 L769.5,179.5 L769.5,187.4 L760.0,187.4" stroke-width="1.4" fill="none" />
<path d="M772.6,215.0 L797.9,215.0 L797.9,264.8 L775.0,268.7" stroke-width="1.6" fill="none" />
<path d="M775.0,220.9 L783.7,217.1" stroke-width="2.2" fill="none" />
<path d="M775.0,225.6 L783.7,221.8" stroke-width="2.2" fill="none" />
<path d="M775.0,230.3 L783.7,226.6" stroke-width="2.2" fill="none" />
<path d="M775.0,235.1 L783.7,231.3" stroke-width="2.2" fill="none" />
<path d="M775.0,239.8 L783.7,236.0" stroke-width="2.2" fill="none" />
<path d="M775.0,244.6 L783.7,240.8" stroke-width="2.2" fill="none" />
<path d="M775.0,249.3 L783.7,245.5" stroke-width="2.2" fill="none" />
<path d="M775.0,254.0 L783.7,250.3" stroke-width="2.2" fill="none" />
<path d="M775.0,258.8 L783.7,255.0" stroke-width="2.2" fill="none" />
<path d="M787.6,220.9 L795.5,217.1" stroke-width="2.2" fill="none" />
<path d="M787.6,225.6 L795.5,221.8" stroke-width="2.2" fill="none" />
<path d="M787.6,230.3 L795.5,226.6" stroke-width="2.2" fill="none" />
<path d="M787.6,235.1 L795.5,231.3" stroke-width="2.2" fill="none" />
<path d="M787.6,239.8 L795.5,236.0" stroke-width="2.2" fill="none" />
<path d="M787.6,244.6 L795.5,240.8" stroke-width="2.2" fill="none" />
<path d="M787.6,249.3 L795.5,245.5" stroke-width="2.2" fill="none" />
<path d="M787.6,254.0 L795.5,250.3" stroke-width="2.2" fill="none" />
<path d="M787.6,258.8 L795.5,255.0" stroke-width="2.2" fill="none" />
<path d="M784.5,220.6 L785.3,258.5" stroke-width="1.4" fill="none" />
<path d="M797.9,170.0 L797.9,270.0" stroke-width="1.8" fill="none" />
<path d="M800.3,170.0 L800.3,270.0" stroke-width="1.8" fill="none" />
<path d="M803.4,214.2 L824.8,215.8 L820.0,231.6 L805.0,231.6 Z" stroke-width="1.6" fill="none" />
<path d="M805.0,233.2 L826.4,237.9 L816.9,249.0 L805.8,247.4 Z" stroke-width="1.6" fill="none" />
<circle cx="809.8" cy="218.2" r="3.79" stroke-width="0.5" fill="#000"/>
<circle cx="809.8" cy="241.4" r="3.79" stroke-width="0.5" fill="#000"/>
<path d="M807.4,204.8 L812.1,209.5 L809.8,214.2" stroke-width="2.0" fill="none" />
<path d="M807.4,230.0 L812.1,234.8 L809.8,237.9" stroke-width="2.0" fill="none" />
<path d="M802.7,215.8 C802.8,214.5 802.7,209.8 803.4,207.9 C804.2,206.1 806.7,205.3 807.4,204.8" stroke-width="1.4" fill="none" />
<line x1="827.4" y1="170" x2="827.4" y2="236" stroke-width="1.5" />
<line x1="831.7" y1="170" x2="831.7" y2="236" stroke-width="1.5" />
<line x1="836" y1="170" x2="836" y2="236" stroke-width="2.4" />
<line x1="842.1" y1="170" x2="842.1" y2="236" stroke-width="1.4" />
<line x1="847.3" y1="170" x2="847.3" y2="236" stroke-width="1.4" />
<line x1="851.7" y1="170" x2="851.7" y2="236" stroke-width="2.4" />
<line x1="856" y1="170" x2="856" y2="236" stroke-width="1.5" />
<line x1="859.5" y1="170" x2="859.5" y2="236" stroke-width="1.5" />
<path d="M839.8,233.2 C839.9,231.7 839.5,226.6 840.3,224.5 C841.0,222.4 843.1,220.9 844.5,220.9 C845.9,220.9 848.0,222.4 848.8,224.5 C849.6,226.6 849.2,231.7 849.3,233.2" stroke-width="1.8" fill="#fff" />
<path d="M839.8,233.2 L849.3,233.2" stroke-width="1.5" fill="none" />
<path d="M801.1,237.9 L860.0,237.9" stroke-width="1.6" fill="none" />
<path d="M801.1,241.1 L860.0,241.1" stroke-width="1.6" fill="none" />
<path d="M801.1,247.4 L860.0,247.4" stroke-width="1.6" fill="none" />
<path d="M801.1,250.6 L860.0,250.6" stroke-width="1.6" fill="none" />
<path d="M801.1,255.3 L860.0,255.3" stroke-width="1.6" fill="none" />
<path d="M802.7,258.5 C805.0,257.9 812.1,255.3 816.9,255.3 C821.6,255.3 826.9,258.3 831.1,258.5 C835.3,258.6 837.3,256.1 842.1,256.1 C847.0,256.1 857.0,258.1 860.0,258.5" stroke-width="1.7" fill="none" />
<path d="M802.7,261.3 C805.0,260.7 812.1,257.8 816.9,257.7 C821.6,257.6 826.9,260.8 831.1,260.8 C835.3,260.9 837.3,258.1 842.1,258.0 C847.0,257.9 857.0,259.7 860.0,260.0" stroke-width="1.7" fill="none" />
<path d="M802.7,264.2 C805.0,263.5 812.1,260.2 816.9,260.0 C821.6,259.9 826.9,263.2 831.1,263.2 C835.3,263.2 837.3,260.2 842.1,259.9 C847.0,259.6 857.0,261.3 860.0,261.6" stroke-width="1.7" fill="none" />
<path d="M802.7,267.0 C805.0,266.2 812.1,262.7 816.9,262.4 C821.6,262.2 826.9,265.7 831.1,265.6 C835.3,265.5 837.3,262.2 842.1,261.8 C847.0,261.4 857.0,263.0 860.0,263.2" stroke-width="1.7" fill="none" />
<path d="M810.6,170.0 L810.6,185.8 L826.4,185.8 L826.4,170.0" stroke-width="1.5" fill="none" />
<path d="M802.7,170.0 L802.7,270.0" stroke-width="1.5" fill="none" />
<path d="M805.8,192.1 L826.4,192.1" stroke-width="1.4" fill="none" />
<path d="M805.8,195.3 L826.4,198.4" stroke-width="1.4" fill="none" />
<path d="M912.7,170.0 L912.7,212.7" stroke-width="1.6" fill="none" />
<path d="M915.8,170.0 L915.8,212.7" stroke-width="1.6" fill="none" />
<path d="M918.2,170.0 L918.2,212.7" stroke-width="1.6" fill="none" />
<path d="M910.3,171.6 L903.2,195.3" stroke-width="1.5" fill="none" />
<path d="M892.1,195.3 L903.2,195.3 L903.2,211.1 L892.1,211.1" stroke-width="1.5" fill="none" />
<path d="M887.4,212.3 L940.0,212.3" stroke-width="2.6" fill="none" />
<path d="M887.4,215.5 L919.0,215.5" stroke-width="1.6" fill="none" />
<path d="M892.1,215.0 L917.4,215.0 L917.4,264.8 L892.9,256.1" stroke-width="1.6" fill="none" />
<path d="M893.7,220.9 L901.6,217.1" stroke-width="2.2" fill="none" />
<path d="M893.7,225.6 L901.6,221.8" stroke-width="2.2" fill="none" />
<path d="M893.7,230.3 L901.6,226.6" stroke-width="2.2" fill="none" />
<path d="M893.7,235.1 L901.6,231.3" stroke-width="2.2" fill="none" />
<path d="M893.7,239.8 L901.6,236.0" stroke-width="2.2" fill="none" />
<path d="M893.7,244.6 L901.6,240.8" stroke-width="2.2" fill="none" />
<path d="M893.7,249.3 L901.6,245.5" stroke-width="2.2" fill="none" />
<path d="M893.7,254.0 L901.6,250.3" stroke-width="2.2" fill="none" />
<path d="M893.7,258.8 L901.6,255.0" stroke-width="2.2" fill="none" />
<path d="M906.4,220.9 L914.2,217.1" stroke-width="2.2" fill="none" />
<path d="M906.4,225.6 L914.2,221.8" stroke-width="2.2" fill="none" />
<path d="M906.4,230.3 L914.2,226.6" stroke-width="2.2" fill="none" />
<path d="M906.4,235.1 L914.2,231.3" stroke-width="2.2" fill="none" />
<path d="M906.4,239.8 L914.2,236.0" stroke-width="2.2" fill="none" />
<path d="M906.4,244.6 L914.2,240.8" stroke-width="2.2" fill="none" />
<path d="M906.4,249.3 L914.2,245.5" stroke-width="2.2" fill="none" />
<path d="M906.4,254.0 L914.2,250.3" stroke-width="2.2" fill="none" />
<path d="M906.4,258.8 L914.2,255.0" stroke-width="2.2" fill="none" />
<path d="M903.2,220.6 L903.2,258.5" stroke-width="1.4" fill="none" />
<path d="M887.4,170.0 L887.4,270.0" stroke-width="1.9" fill="none" />
<path d="M890.9,170.0 L890.9,270.0" stroke-width="1.9" fill="none" />
<path d="M868.4,189.0 L881.1,189.0 L881.1,201.6 L868.4,201.6 Z" stroke-width="1.8" fill="none" />
<circle cx="874.8" cy="195.3" r="2.84" stroke-width="0.5" fill="#000"/>
<path d="M862.1,195.3 L884.2,207.9 L862.1,207.9 Z" stroke-width="1.6" fill="none" />
<path d="M871.6,210.3 C873.2,209.0 878.4,208.8 881.1,209.5 C883.7,210.2 887.4,212.7 887.4,214.2 C887.4,215.8 883.7,218.4 881.1,219.0 C878.4,219.5 873.2,218.8 871.6,217.4 C870.0,215.9 870.0,211.6 871.6,210.3 Z" stroke-width="2.2" fill="none" />
<path d="M874.8,222.1 L881.1,222.1 L881.1,258.5 L874.8,258.5 Z" stroke-width="1.8" fill="none" />
<path d="M862.1,223.7 L871.6,223.7 L871.6,233.2 L862.1,233.2" stroke-width="1.5" fill="none" />
<path d="M840.0,237.9 C842.1,237.7 847.9,236.1 852.6,236.4 C857.4,236.6 864.7,239.2 868.4,239.5 C872.1,239.8 873.7,238.2 874.8,237.9" stroke-width="1.7" fill="none" />
<path d="M840.0,241.9 C842.1,241.5 847.9,239.7 852.6,239.8 C857.4,240.0 864.7,242.5 868.4,242.7 C872.1,242.9 873.7,241.4 874.8,241.1" stroke-width="1.7" fill="none" />
<path d="M840.0,245.8 C842.1,245.4 847.9,243.3 852.6,243.3 C857.4,243.3 864.7,245.7 868.4,245.8 C872.1,246.0 873.7,244.5 874.8,244.2" stroke-width="1.7" fill="none" />
<path d="M840.0,249.8 C842.1,249.3 847.9,246.9 852.6,246.8 C857.4,246.6 864.7,248.9 868.4,249.0 C872.1,249.1 873.7,247.7 874.8,247.4" stroke-width="1.7" fill="none" />
<path d="M840.0,253.7 C842.1,253.1 847.9,250.5 852.6,250.3 C857.4,250.0 864.7,252.1 868.4,252.1 C872.1,252.2 873.7,250.8 874.8,250.6" stroke-width="1.7" fill="none" />
<path d="M863.7,170.0 L863.7,189.0" stroke-width="1.6" fill="none" />
<path d="M868.4,170.0 L868.4,185.8" stroke-width="1.6" fill="none" />
<path d="M873.2,170.0 L873.2,179.5" stroke-width="1.6" fill="none" />
<path d="M877.9,170.0 L877.9,179.5" stroke-width="1.6" fill="none" />
<path d="M862.1,181.1 L887.4,181.1" stroke-width="1.4" fill="none" />
<circle cx="863.7" cy="245.8" r="2.21" stroke-width="0.5" fill="#000"/>
<path d="M840.0,258.5 L887.4,258.5" stroke-width="1.5" fill="none" />
<path d="M840.0,264.8 L887.4,264.8" stroke-width="1.5" fill="none" />
<path d="M775.0,260.0 C775.1,261.6 775.1,266.1 775.8,269.5 C776.5,272.9 777.1,276.9 779.0,280.5 C780.8,284.2 784.0,288.2 786.9,291.6 C789.8,295.0 792.9,298.2 796.3,301.1 C799.8,304.0 803.4,307.3 807.4,309.0 C811.3,310.6 817.9,310.6 820.0,310.9" stroke-width="1.8" fill="none" />
<path d="M777.4,260.0 C777.6,261.6 777.9,266.3 778.6,269.5 C779.4,272.6 780.2,275.7 782.1,279.0 C784.0,282.2 787.1,286.1 790.0,289.2 C792.9,292.4 796.6,295.4 799.5,297.9 C802.4,300.4 806.1,303.2 807.4,304.2" stroke-width="1.2" fill="none" />
<ellipse cx="779.7" cy="295.5" rx="3.79" ry="11.85" transform="rotate(-8 779.7 295.5)" stroke-width="1.6" fill="none"/>
<path d="M772.3,260.0 L772.3,360.0" stroke-width="1.8" fill="none" />
<path d="M771.1,279.0 L771.1,294.8" stroke-width="2.6" fill="none" />
<path d="M784.8,294.8 L784.8,339.0" stroke-width="1.4" fill="none" />
<path d="M760.0,304.2 C760.4,307.9 761.4,320.3 762.4,326.4 C763.3,332.4 764.2,335.8 765.5,340.6 C766.8,345.3 769.2,351.5 770.3,354.8 C771.3,358.0 771.6,359.1 771.8,360.0" stroke-width="1.4" fill="none" />
<path d="M774.2,316.9 L775.0,360.0" stroke-width="1.3" fill="none" />
<path d="M760,320 L860,320" stroke-width="1.3" stroke-dasharray="30,5,8,5" fill="none"/>
<path d="M760.0,340.6 L860.0,340.6" stroke-width="1.6" fill="none" />
<path d="M792.4,317.7 L810.6,320.0 L809.8,337.4 L791.6,335.0 Z" stroke-width="1.6" fill="none" />
<path d="M793.2,318.1 L810.2,320.5" stroke-width="2.6" fill="none" />
<ellipse cx="839.8" cy="334.2" rx="20.54" ry="10.27" transform="rotate(0 839.8 334.2)" stroke-width="1.8" fill="none"/>
<path d="M823.2,329.5 L827.1,335.8" stroke-width="2.6" fill="none" />
<path d="M827.1,326.4 L831.1,339.0" stroke-width="2.6" fill="none" />
<path d="M831.1,329.5 L835.0,335.8" stroke-width="2.6" fill="none" />
<path d="M835.0,326.4 L839.0,339.0" stroke-width="2.6" fill="none" />
<path d="M839.0,329.5 L842.9,335.8" stroke-width="2.6" fill="none" />
<path d="M842.9,326.4 L846.9,339.0" stroke-width="2.6" fill="none" />
<path d="M846.9,329.5 L850.8,335.8" stroke-width="2.6" fill="none" />
<path d="M850.8,326.4 L854.8,339.0" stroke-width="2.6" fill="none" />
<path d="M854.8,329.5 L858.7,335.8" stroke-width="2.6" fill="none" />
<path d="M822.4,335.8 L827.9,327.9" stroke-width="2.4" fill="none" />
<path d="M823.2,329.5 L829.5,339.0" stroke-width="2.0" fill="none" />
<path d="M828.7,335.8 L834.2,327.9" stroke-width="2.4" fill="none" />
<path d="M829.5,329.5 L835.8,339.0" stroke-width="2.0" fill="none" />
<path d="M835.0,335.8 L840.6,327.9" stroke-width="2.4" fill="none" />
<path d="M835.8,329.5 L842.1,339.0" stroke-width="2.0" fill="none" />
<path d="M841.4,335.8 L846.9,327.9" stroke-width="2.4" fill="none" />
<path d="M842.1,329.5 L848.5,339.0" stroke-width="2.0" fill="none" />
<path d="M847.7,335.8 L853.2,327.9" stroke-width="2.4" fill="none" />
<path d="M848.5,329.5 L854.8,339.0" stroke-width="2.0" fill="none" />
<path d="M854.0,335.8 L859.5,327.9" stroke-width="2.4" fill="none" />
<path d="M854.8,329.5 L861.1,339.0" stroke-width="2.0" fill="none" />
<path d="M814.5,318.5 L814.5,360.0" stroke-width="1.5" fill="none" />
<path d="M816.4,318.5 L816.4,360.0" stroke-width="1.5" fill="none" />
<path d="M807.4,290.8 L860.0,290.8" stroke-width="1.8" fill="none" />
<path d="M807.4,307.4 L820.0,307.4 L820.0,310.6" stroke-width="1.6" fill="none" />
<path d="M807.4,290.8 L807.4,307.4" stroke-width="1.6" fill="none" />
<path d="M822.4,294.0 L824.0,294.0 L824.0,297.9 L822.4,297.9 Z" stroke-width="1.4" fill="none" />
<path d="M825.9,294.0 L827.5,294.0 L827.5,297.9 L825.9,297.9 Z" stroke-width="1.4" fill="none" />
<path d="M829.4,294.0 L830.9,294.0 L830.9,297.9 L829.4,297.9 Z" stroke-width="1.4" fill="none" />
<path d="M832.8,294.0 L834.4,294.0 L834.4,297.9 L832.8,297.9 Z" stroke-width="1.4" fill="none" />
<path d="M836.3,294.0 L837.9,294.0 L837.9,297.9 L836.3,297.9 Z" stroke-width="1.4" fill="none" />
<path d="M839.8,294.0 L841.4,294.0 L841.4,297.9 L839.8,297.9 Z" stroke-width="1.4" fill="none" />
<path d="M843.3,294.0 L844.8,294.0 L844.8,297.9 L843.3,297.9 Z" stroke-width="1.4" fill="none" />
<path d="M846.7,294.0 L848.3,294.0 L848.3,297.9 L846.7,297.9 Z" stroke-width="1.4" fill="none" />
<path d="M850.2,294.0 L851.8,294.0 L851.8,297.9 L850.2,297.9 Z" stroke-width="1.4" fill="none" />
<path d="M853.7,294.0 L855.3,294.0 L855.3,297.9 L853.7,297.9 Z" stroke-width="1.4" fill="none" />
<path d="M857.2,294.0 L858.7,294.0 L858.7,297.9 L857.2,297.9 Z" stroke-width="1.4" fill="none" />
<path d="M820.8,298.7 L860.0,298.7" stroke-width="1.6" fill="none" />
<path d="M820.8,299.5 L860.0,299.5" stroke-width="1.6" fill="none" />
<path d="M820.8,300.6 L860.0,300.6" stroke-width="1.6" fill="none" />
<path d="M820.8,301.7 L860.0,301.7" stroke-width="1.6" fill="none" />
<path d="M820.8,302.8 L860.0,302.8" stroke-width="1.6" fill="none" />
<path d="M820.8,303.9 L860.0,303.9" stroke-width="1.6" fill="none" />
<path d="M820.8,305.0 L860.0,305.0" stroke-width="1.6" fill="none" />
<path d="M820.8,306.1 L860.0,306.1" stroke-width="1.6" fill="none" />
<circle cx="823.2" cy="310.6" r="0.79" stroke-width="0.5" fill="#000"/>
<circle cx="827.9" cy="310.6" r="0.79" stroke-width="0.5" fill="#000"/>
<circle cx="832.7" cy="310.6" r="0.79" stroke-width="0.5" fill="#000"/>
<circle cx="837.4" cy="310.6" r="0.79" stroke-width="0.5" fill="#000"/>
<circle cx="842.1" cy="310.6" r="0.79" stroke-width="0.5" fill="#000"/>
<circle cx="846.9" cy="310.6" r="0.79" stroke-width="0.5" fill="#000"/>
<circle cx="851.6" cy="310.6" r="0.79" stroke-width="0.5" fill="#000"/>
<circle cx="856.4" cy="310.6" r="0.79" stroke-width="0.5" fill="#000"/>
<path d="M797.9,260.0 L797.9,291.6" stroke-width="1.6" fill="none" />
<path d="M800.8,260.0 L800.8,291.6" stroke-width="1.6" fill="none" />
<path d="M804.2,260.0 L804.2,291.6" stroke-width="1.6" fill="none" />
<path d="M798.7,260.0 L805.8,264.7" stroke-width="1.6" fill="none" />
<path d="M798.7,266.3 L805.8,271.1" stroke-width="1.6" fill="none" />
<path d="M798.7,272.6 L805.8,277.4" stroke-width="1.6" fill="none" />
<path d="M798.7,279.0 L805.8,283.7" stroke-width="1.6" fill="none" />
<path d="M798.7,285.3 L805.8,290.0" stroke-width="1.6" fill="none" />
<path d="M812.1,263.2 C814.5,262.9 821.3,261.1 826.4,261.6 C831.4,262.1 836.5,266.1 842.1,266.3 C847.8,266.6 857.0,263.7 860.0,263.2" stroke-width="1.6" fill="none" />
<path d="M812.1,267.9 C814.5,267.5 821.3,265.3 826.4,265.5 C831.4,265.8 836.5,269.2 842.1,269.5 C847.8,269.7 857.0,267.5 860.0,267.1" stroke-width="1.6" fill="none" />
<path d="M812.1,272.6 C814.5,272.1 821.3,269.5 826.4,269.5 C831.4,269.5 836.5,272.4 842.1,272.6 C847.8,272.9 857.0,271.3 860.0,271.1" stroke-width="1.6" fill="none" />
<path d="M812.1,277.4 C814.5,276.7 821.3,273.7 826.4,273.4 C831.4,273.2 836.5,275.5 842.1,275.8 C847.8,276.1 857.0,275.1 860.0,275.0" stroke-width="1.6" fill="none" />
<path d="M812.1,282.1 C814.5,281.3 821.3,277.9 826.4,277.4 C831.4,276.9 836.5,278.7 842.1,279.0 C847.8,279.2 857.0,279.0 860.0,279.0" stroke-width="1.6" fill="none" />
<path d="M816.9,275.8 C817.4,276.9 818.5,280.8 820.0,282.1 C821.6,283.4 824.8,284.2 826.4,283.7 C827.9,283.2 829.0,279.7 829.5,279.0" stroke-width="1.8" fill="none" />
<path d="M835.8,275.8 L835.8,290.8" stroke-width="1.6" fill="none" />
<path d="M839.0,275.8 L839.0,290.8" stroke-width="1.6" fill="none" />
<path d="M845.3,275.8 L845.3,290.8" stroke-width="1.6" fill="none" />
<path d="M848.5,275.8 L848.5,290.8" stroke-width="1.6" fill="none" />
<path d="M810.6,260.0 L810.6,291.6" stroke-width="1.6" fill="none" />
<path d="M814.5,260.0 L814.5,290.8" stroke-width="1.4" fill="none" />
<path d="M913.0,278.2 C912.1,278.6 909.6,279.1 907.9,280.5 C906.3,282.0 904.8,284.6 903.2,286.9 C901.6,289.1 900.3,291.6 898.5,294.0 C896.6,296.3 894.5,298.8 892.1,301.1 C889.8,303.3 887.4,305.8 884.2,307.4 C881.1,309.0 875.0,310.3 873.2,310.9" stroke-width="1.8" fill="none" />
<path d="M914.2,282.1 C913.5,282.9 911.4,284.7 909.5,286.9 C907.7,289.0 905.6,292.1 903.2,294.8 C900.8,297.4 897.9,300.5 895.3,302.7 C892.7,304.8 888.7,306.6 887.4,307.4" stroke-width="1.1" fill="none" />
<ellipse cx="908.7" cy="295.5" rx="3.48" ry="11.85" transform="rotate(8 908.7 295.5)" stroke-width="1.6" fill="none"/>
<path d="M903.2,260.0 L903.2,339.0" stroke-width="1.4" fill="none" />
<path d="M914.6,260.0 L914.6,360.0" stroke-width="2.0" fill="none" />
<path d="M916.6,275.8 L916.6,291.6" stroke-width="2.6" fill="none" />
<path d="M914.2,304.2 C913.6,306.9 911.5,315.3 910.3,320.0 C909.1,324.8 908.1,328.5 907.1,332.7 C906.2,336.9 905.4,340.8 904.8,345.3 C904.1,349.9 903.5,357.6 903.2,360.0" stroke-width="1.4" fill="none" />
<ellipse cx="886.6" cy="328.7" rx="7.90" ry="11.85" transform="rotate(0 886.6 328.7)" stroke-width="1.8" fill="#666"/>
<path d="M840.0,323.2 C842.4,323.1 850.0,321.9 854.2,322.4 C858.4,322.9 862.8,324.5 865.3,326.4 C867.8,328.2 869.2,331.1 869.2,333.5 C869.2,335.8 867.8,338.9 865.3,340.6 C862.8,342.3 858.4,343.2 854.2,343.7 C850.0,344.3 842.4,343.7 840.0,343.7" stroke-width="1.8" fill="none" />
<path d="M841.6,324.8 L846.3,342.1" stroke-width="2.6" fill="none" />
<path d="M846.3,324.8 L841.6,342.1" stroke-width="2.0" fill="none" />
<path d="M847.1,324.8 L851.8,342.1" stroke-width="2.6" fill="none" />
<path d="M851.8,324.8 L847.1,342.1" stroke-width="2.0" fill="none" />
<path d="M852.6,324.8 L857.4,342.1" stroke-width="2.6" fill="none" />
<path d="M857.4,324.8 L852.6,342.1" stroke-width="2.0" fill="none" />
<path d="M858.2,324.8 L862.9,342.1" stroke-width="2.6" fill="none" />
<path d="M862.9,324.8 L858.2,342.1" stroke-width="2.0" fill="none" />
<path d="M863.7,324.8 L868.4,342.1" stroke-width="2.6" fill="none" />
<path d="M868.4,324.8 L863.7,342.1" stroke-width="2.0" fill="none" />
<path d="M840,320 L903,320" stroke-width="1.3" stroke-dasharray="30,5,8,5" fill="none"/>
<path d="M903.2,320.0 L926.9,320.0" stroke-width="1.4" fill="none" />
<path d="M840.0,340.6 L940.0,340.6" stroke-width="1.6" fill="none" />
<path d="M873.2,318.5 L873.2,354.8" stroke-width="2.0" fill="none" />
<path d="M915.8,346.1 L927.7,346.1 L927.7,360.0 L915.8,360.0 Z" stroke-width="2.0" fill="none" />
<path d="M919.0,346.9 L919.0,360.0" stroke-width="1.8" fill="none" />
<path d="M922.1,346.9 L922.1,360.0" stroke-width="1.8" fill="none" />
<path d="M925.3,346.9 L925.3,360.0" stroke-width="1.8" fill="none" />
<path d="M892.1,260.0 L892.1,307.4" stroke-width="1.5" fill="none" />
<path d="M840.0,290.8 L871.6,290.8" stroke-width="1.8" fill="none" />
<path d="M841.6,294.0 L843.2,294.0 L843.2,297.9 L841.6,297.9 Z" stroke-width="1.4" fill="none" />
<path d="M845.1,294.0 L846.6,294.0 L846.6,297.9 L845.1,297.9 Z" stroke-width="1.4" fill="none" />
<path d="M848.5,294.0 L850.1,294.0 L850.1,297.9 L848.5,297.9 Z" stroke-width="1.4" fill="none" />
<path d="M852.0,294.0 L853.6,294.0 L853.6,297.9 L852.0,297.9 Z" stroke-width="1.4" fill="none" />
<path d="M855.5,294.0 L857.1,294.0 L857.1,297.9 L855.5,297.9 Z" stroke-width="1.4" fill="none" />
<path d="M859.0,294.0 L860.5,294.0 L860.5,297.9 L859.0,297.9 Z" stroke-width="1.4" fill="none" />
<path d="M862.4,294.0 L864.0,294.0 L864.0,297.9 L862.4,297.9 Z" stroke-width="1.4" fill="none" />
<path d="M865.9,294.0 L867.5,294.0 L867.5,297.9 L865.9,297.9 Z" stroke-width="1.4" fill="none" />
<path d="M869.4,294.0 L871.0,294.0 L871.0,297.9 L869.4,297.9 Z" stroke-width="1.4" fill="none" />
<path d="M840.0,298.7 L870.0,298.7" stroke-width="1.6" fill="none" />
<path d="M840.0,299.8 L870.0,299.8" stroke-width="1.6" fill="none" />
<path d="M840.0,300.9 L870.0,300.9" stroke-width="1.6" fill="none" />
<path d="M840.0,302.0 L870.0,302.0" stroke-width="1.6" fill="none" />
<path d="M840.0,303.1 L870.0,303.1" stroke-width="1.6" fill="none" />
<path d="M840.0,304.2 L870.0,304.2" stroke-width="1.6" fill="none" />
<path d="M840.0,305.3 L870.0,305.3" stroke-width="1.6" fill="none" />
<path d="M840.0,306.4 L870.0,306.4" stroke-width="1.6" fill="none" />
<path d="M870.0,290.8 L870.0,307.4 L873.2,310.6" stroke-width="1.6" fill="none" />
<circle cx="843.2" cy="310.6" r="0.79" stroke-width="0.5" fill="#000"/>
<circle cx="847.9" cy="310.6" r="0.79" stroke-width="0.5" fill="#000"/>
<circle cx="852.6" cy="310.6" r="0.79" stroke-width="0.5" fill="#000"/>
<circle cx="857.4" cy="310.6" r="0.79" stroke-width="0.5" fill="#000"/>
<circle cx="862.1" cy="310.6" r="0.79" stroke-width="0.5" fill="#000"/>
<circle cx="866.9" cy="310.6" r="0.79" stroke-width="0.5" fill="#000"/>
<path d="M881.1,260.0 L881.1,299.5" stroke-width="1.6" fill="none" />
<path d="M885.8,260.0 L885.8,299.5" stroke-width="1.6" fill="none" />
<path d="M889.0,260.0 L889.0,299.5" stroke-width="1.6" fill="none" />
<path d="M881.9,261.6 L889.0,266.3" stroke-width="1.6" fill="none" />
<path d="M881.9,267.9 L889.0,272.6" stroke-width="1.6" fill="none" />
<path d="M881.9,274.2 L889.0,279.0" stroke-width="1.6" fill="none" />
<path d="M881.9,280.5 L889.0,285.3" stroke-width="1.6" fill="none" />
<path d="M881.9,286.9 L889.0,291.6" stroke-width="1.6" fill="none" />
<path d="M881.9,293.2 L889.0,297.9" stroke-width="1.6" fill="none" />
<path d="M840.0,264.7 C842.1,264.5 848.4,262.9 852.6,263.2 C856.9,263.4 861.1,266.3 865.3,266.3 C869.5,266.3 875.8,263.7 877.9,263.2" stroke-width="1.6" fill="none" />
<path d="M840.0,269.2 C842.1,268.8 848.4,267.0 852.6,267.1 C856.9,267.2 861.1,269.8 865.3,269.8 C869.5,269.8 875.8,267.6 877.9,267.1" stroke-width="1.6" fill="none" />
<path d="M840.0,273.6 C842.1,273.2 848.4,271.1 852.6,271.1 C856.9,271.0 861.1,273.3 865.3,273.3 C869.5,273.3 875.8,271.4 877.9,271.1" stroke-width="1.6" fill="none" />
<path d="M840.0,278.0 C842.1,277.5 848.4,275.2 852.6,275.0 C856.9,274.8 861.1,276.7 865.3,276.7 C869.5,276.7 875.8,275.3 877.9,275.0" stroke-width="1.6" fill="none" />
<path d="M840.0,282.4 C842.1,281.9 848.4,279.3 852.6,279.0 C856.9,278.6 861.1,280.2 865.3,280.2 C869.5,280.2 875.8,279.2 877.9,279.0" stroke-width="1.6" fill="none" />
<path d="M849.5,279.0 C850.5,279.7 853.7,283.4 855.8,283.7 C857.9,284.0 861.1,281.1 862.1,280.5" stroke-width="1.8" fill="none" />
<path d="M846.3,269.5 L846.3,290.8" stroke-width="1.6" fill="none" />
<path d="M849.5,269.5 L849.5,290.8" stroke-width="1.6" fill="none" />
<path d="M855.8,269.5 L855.8,290.8" stroke-width="1.6" fill="none" />
<path d="M860.5,269.5 L860.5,290.8" stroke-width="1.6" fill="none" />
<path d="M866.9,269.5 L866.9,290.8" stroke-width="1.6" fill="none" />
<path d="M871.6,269.5 L871.6,290.8" stroke-width="1.6" fill="none" />
<path d="M876.3,269.5 L876.3,290.8" stroke-width="1.6" fill="none" />
<path d="M873.2,305.8 L877.9,307.4 L877.9,312.1 L873.2,312.1" stroke-width="1.6" fill="none" />
<path d="M765.1,340.6 L860.0,340.6" stroke-width="2.4" fill="none" />
<path d="M765.1,340.0 L765.1,398.2" stroke-width="1.6" fill="none" />
<path d="M765.7,347.6 C766.4,349.3 768.1,354.5 770.1,357.7 C772.1,360.9 774.7,364.0 777.7,366.5 C780.6,369.1 784.4,371.5 787.8,373.1 C791.2,374.7 795.0,375.5 797.9,376.0 C800.9,376.5 804.2,376.0 805.5,376.0" stroke-width="1.6" fill="none" />
<path d="M785.3,374.4 L860.0,374.4" stroke-width="3.0" fill="none" />
<path d="M774.5,361.7 L860.0,361.7" stroke-width="1.5" fill="none" />
<path d="M774.5,363.5 L860.0,363.5" stroke-width="1.5" fill="none" />
<path d="M777.7,362.3 L780.9,362.3" stroke-width="2.0" fill="none" />
<path d="M785.3,362.3 L788.4,362.3" stroke-width="2.0" fill="none" />
<path d="M792.9,362.3 L796.0,362.3" stroke-width="2.0" fill="none" />
<path d="M800.5,362.3 L803.6,362.3" stroke-width="2.0" fill="none" />
<path d="M808.0,362.3 L811.2,362.3" stroke-width="2.0" fill="none" />
<path d="M815.6,362.3 L818.8,362.3" stroke-width="2.0" fill="none" />
<path d="M823.2,362.3 L826.4,362.3" stroke-width="2.0" fill="none" />
<path d="M830.8,362.3 L834.0,362.3" stroke-width="2.0" fill="none" />
<path d="M838.4,362.3 L841.5,362.3" stroke-width="2.0" fill="none" />
<path d="M846.0,362.3 L849.1,362.3" stroke-width="2.0" fill="none" />
<path d="M853.6,362.3 L856.7,362.3" stroke-width="2.0" fill="none" />
<path d="M772.6,340.0 L772.6,360.2" stroke-width="1.6" fill="none" />
<path d="M773.9,340.0 L773.9,360.2" stroke-width="1.6" fill="none" />
<path d="M786.5,340.0 L786.5,360.2" stroke-width="1.6" fill="none" />
<path d="M815.6,340.0 L815.6,353.9" stroke-width="1.6" fill="none" />
<path d="M782.8,340.0 L782.8,345.1 L786.5,345.7" stroke-width="1.4" fill="none" />
<path d="M799.2,377.9 L825.7,377.9 L825.7,386.1 L799.2,386.1 Z" stroke-width="1.6" fill="none" />
<path d="M801.7,379.8 L803.6,379.8 L803.6,383.0 L801.7,383.0 Z" stroke-width="1.6" fill="none" />
<path d="M805.5,379.8 L807.4,379.8 L807.4,383.0 L805.5,383.0 Z" stroke-width="1.6" fill="none" />
<path d="M809.3,379.8 L811.2,379.8 L811.2,383.0 L809.3,383.0 Z" stroke-width="1.6" fill="none" />
<path d="M813.1,379.8 L815.0,379.8 L815.0,383.0 L813.1,383.0 Z" stroke-width="1.6" fill="none" />
<path d="M816.9,379.8 L818.8,379.8 L818.8,383.0 L816.9,383.0 Z" stroke-width="1.6" fill="none" />
<path d="M820.7,379.8 L822.6,379.8 L822.6,383.0 L820.7,383.0 Z" stroke-width="1.6" fill="none" />
<path d="M800.5,384.2 L824.5,384.2" stroke-width="1.4" fill="none" />
<path d="M765.1,387.0 L797.9,387.0" stroke-width="1.6" fill="none" />
<path d="M765.1,388.7 L797.9,388.7" stroke-width="2.2" fill="none" />
<path d="M765.1,391.2 L797.9,391.2" stroke-width="2.2" fill="none" />
<path d="M797.9,377.9 L797.9,393.1" stroke-width="1.5" fill="none" />
<path d="M804.9,390.6 L860.0,390.6" stroke-width="2.0" fill="none" />
<path d="M808.0,393.7 L860.0,393.7" stroke-width="1.5" fill="none" />
<path d="M820.7,395.6 C820.8,397.3 820.1,403.3 821.3,405.7 C822.6,408.2 821.6,409.4 828.3,410.2 C834.9,410.9 855.7,410.2 861.1,410.2" stroke-width="2.0" fill="none" />
<path d="M760.0,413.1 L860.0,413.1" stroke-width="3.0" fill="none" />
<path d="M770.1,398.8 C770.1,397.4 774.1,395.7 776.4,395.0 C778.8,394.3 781.9,393.7 784.0,394.4 C786.1,395.0 789.1,397.3 789.1,398.8 C789.1,400.3 786.1,402.5 784.0,403.2 C781.9,403.9 778.8,403.9 776.4,403.2 C774.1,402.5 770.1,400.2 770.1,398.8 Z" stroke-width="2.0" fill="none" />
<path d="M779.0,396.9 L779.0,401.9" stroke-width="1.8" fill="none" />
<path d="M782.1,396.9 L782.1,401.9" stroke-width="1.8" fill="none" />
<path d="M760.0,398.8 L770.1,398.8" stroke-width="2.6" fill="none" />
<path d="M789.1,398.8 L813.1,398.8" stroke-width="2.6" fill="none" />
<circle cx="805.5" cy="397.9" r="1.26" stroke-width="1.6" fill="none"/>
<path d="M775.2,405.7 L782.8,408.3 L785.3,405.7" stroke-width="1.6" fill="none" />
<path d="M844.1,377.9 L857.3,377.9 L857.3,385.5 L844.1,385.5 Z" stroke-width="1.6" fill="none" />
<path d="M830.2,379.8 L839.6,379.8" stroke-width="1.6" fill="none" />
<path d="M855.0,413.0 L967.4,413.0" stroke-width="3.0" fill="none" />
<path d="M933.3,377.9 L951.0,381.7 L963.7,393.1 L963.7,401.9 L953.5,408.9 L933.3,408.9" stroke-width="1.8" fill="none" />
<path d="M942.2,388.0 C942.2,387.4 942.0,386.4 943.4,386.1 C944.9,385.8 949.5,385.8 951.0,386.1 C952.5,386.4 952.3,387.4 952.3,388.0 C952.3,388.6 952.5,389.6 951.0,389.9 C949.5,390.2 944.9,390.2 943.4,389.9 C942.0,389.6 942.2,388.6 942.2,388.0 Z" stroke-width="1.8" fill="none" />
<path d="M943.4,403.8 C943.4,403.1 943.4,402.0 944.7,401.7 C946.0,401.3 949.8,401.3 951.0,401.7 C952.3,402.0 952.3,403.1 952.3,403.8 C952.3,404.5 952.3,405.6 951.0,406.0 C949.8,406.3 946.0,406.3 944.7,406.0 C943.4,405.6 943.4,404.5 943.4,403.8 Z" stroke-width="1.8" fill="none" />
<path d="M933.3,377.9 L933.3,408.9" stroke-width="1.5" fill="none" />
<path d="M937.1,380.4 L948.5,380.4" stroke-width="2.0" fill="none" />
<path d="M908.1,377.9 C910.0,373.1 917.5,373.1 919.4,377.9 C921.3,382.7 919.9,401.8 919.4,407.0 C919.0,412.1 918.4,408.5 916.9,408.9 C915.4,409.2 912.1,409.2 910.6,408.9 C909.1,408.5 908.5,412.1 908.1,407.0 C907.6,401.8 906.2,382.7 908.1,377.9 Z" stroke-width="1.8" fill="none" />
<circle cx="913.1" cy="380.4" r="1.52" stroke-width="1.6" fill="none"/>
<path d="M909.3,407.0 L918.2,407.0" stroke-width="1.4" fill="none" />
<path d="M916.3,346.3 L928.9,346.3 L928.9,371.6 L916.3,371.6 Z" stroke-width="1.8" fill="none" />
<path d="M918.8,346.9 L918.8,371.0" stroke-width="1.6" fill="none" />
<path d="M921.3,346.9 L921.3,371.0" stroke-width="1.6" fill="none" />
<path d="M923.9,346.9 L923.9,371.0" stroke-width="1.6" fill="none" />
<path d="M926.4,346.9 L926.4,371.0" stroke-width="1.6" fill="none" />
<path d="M855.0,362.1 L918.2,362.1" stroke-width="1.5" fill="none" />
<path d="M855.0,363.8 L918.2,363.8" stroke-width="1.5" fill="none" />
<path d="M855.0,375.4 L903.0,375.4" stroke-width="3.0" fill="none" />
<path d="M855.0,377.9 L908.1,377.9" stroke-width="1.5" fill="none" />
<path d="M855.0,391.8 L908.1,391.8" stroke-width="2.2" fill="none" />
<path d="M877.7,377.9 L877.7,391.8" stroke-width="1.5" fill="none" />
<path d="M896.7,377.9 L896.7,391.8" stroke-width="1.5" fill="none" />
<path d="M905.5,377.9 L905.5,391.8" stroke-width="1.5" fill="none" />
<circle cx="883.4" cy="382.3" r="1.52" stroke-width="0.5" fill="#000"/>
<circle cx="891.6" cy="382.3" r="1.52" stroke-width="0.5" fill="#000"/>
<path d="M862.6,380.4 L870.2,380.4" stroke-width="1.6" fill="none" />
<path d="M867.0,380.4 L867.0,385.5" stroke-width="2.6" fill="none" />
<path d="M872.1,374.7 L872.3,370.3 L874.6,374.7" stroke-width="1.6" fill="none" />
<path d="M871.2,371.6 L874.0,371.6" stroke-width="1.2" fill="none" />
<path d="M886.6,403.8 L899.2,403.8 L899.2,412.6 L886.6,412.6" stroke-width="1.6" fill="none" />
<path d="M891.0,405.7 L891.0,411.4" stroke-width="1.8" fill="none" />
<path d="M894.8,405.7 L894.8,411.4" stroke-width="1.8" fill="none" />
<path d="M855.0,394.3 C857.1,394.5 863.4,395.0 867.6,395.6 C871.8,396.2 875.6,397.6 880.3,398.1 C884.9,398.6 890.8,398.5 895.4,398.7 C900.1,399.0 906.0,399.3 908.1,399.4" stroke-width="1.8" fill="none" />
<path d="M855.0,397.5 C857.5,397.5 865.1,397.2 870.2,397.5 C875.2,397.8 882.8,399.1 885.3,399.4" stroke-width="1.6" fill="none" />
<path d="M930.8,398.1 L946.0,398.1" stroke-width="2.0" fill="none" />
<path d="M867.0,393.1 L867.6,405.7 L862.6,409.5 L858.8,410.8" stroke-width="2.6" fill="none" />
<path d="M873.3,340.0 L873.3,353.9" stroke-width="3.0" fill="none" />
<path d="M903.0,340.0 L903.0,360.2 L914.4,360.2 L914.4,340.0" stroke-width="1.5" fill="none" />
<path d="M855.0,360.2 L903.0,360.2" stroke-width="1.3" fill="none" />
<path d="M923.2,393.1 C923.6,394.1 924.5,397.3 925.8,399.4 C927.0,401.5 928.7,404.2 930.8,405.7 C932.9,407.2 935.4,407.7 938.4,408.2 C941.3,408.8 946.8,408.8 948.5,408.9" stroke-width="1.8" fill="none" />
<path d="M922.0,371.6 L933.3,375.4 L935.9,381.7" stroke-width="1.6" fill="none" />
<path d="M903.0,369.1 L905.5,372.8" stroke-width="2.4" fill="none" />
<path d="M908.1,369.1 L910.6,372.8" stroke-width="2.4" fill="none" />
<path d="M911.9,369.1 L914.4,372.8" stroke-width="2.4" fill="none" />
<path d="M698.0,285.0 C698.0,272.5 697.7,223.3 698.0,209.8 C698.3,196.2 698.6,205.1 699.8,203.7 C700.9,202.2 699.8,201.5 705.0,201.1 C710.2,200.6 726.0,200.6 731.0,201.1 C736.1,201.5 734.4,202.2 735.4,203.7 C736.4,205.1 736.8,203.5 737.1,209.8 C737.4,216.0 737.1,235.8 737.1,241.0" stroke-width="1.8" fill="none" />
<path d="M700.6,201.1 L734.5,201.1" stroke-width="3.0" fill="none" />
<path d="M706.7,201.1 L706.7,190.6 L713.7,190.6 L713.7,201.1" stroke-width="1.6" fill="none" />
<path d="M720.6,201.1 L720.6,190.6 L727.6,190.6 L727.6,201.1" stroke-width="1.6" fill="none" />
<path d="M705.8,192.4 L714.5,192.4" stroke-width="1.4" fill="none" />
<path d="M719.7,192.4 L728.4,192.4" stroke-width="1.4" fill="none" />
<path d="M715.9,186.3 L715.9,201.1" stroke-width="2.0" fill="none" />
<path d="M718.3,186.3 L718.3,201.1" stroke-width="1.4" fill="none" />
<path d="M713.7,180.2 L720.6,180.2 L720.6,186.3 L713.7,186.3 Z" stroke-width="1.6" fill="none" />
<path d="M706.7,225.4 L706.7,285.0" stroke-width="1.5" fill="none" />
<path d="M699.8,225.4 C700.9,225.2 705.3,223.4 706.7,224.5 C708.2,225.7 707.0,230.6 708.4,232.3 C709.9,234.1 713.4,234.2 715.4,234.9 C717.4,235.7 719.7,236.4 720.6,236.7" stroke-width="1.5" fill="none" />
<path d="M711.9,234.1 L711.9,285.0" stroke-width="1.5" fill="none" />
<path d="M715.4,234.1 L715.4,285.0" stroke-width="1.5" fill="none" />
<path d="M718.9,234.1 L718.9,285.0" stroke-width="1.5" fill="none" />
<path d="M720.6,236.7 L720.6,279.3" stroke-width="1.4" fill="none" />
<path d="M720.6,248.0 L723.2,248.0 L723.2,261.9 L720.6,261.9" stroke-width="1.4" fill="none" />
<path d="M737.1,241.0 L740.1,242.8 L740.8,279.3 L738.0,285.0" stroke-width="1.6" fill="none" />
<path d="M734.5,285.0 C733.9,284.0 732.3,280.5 731.0,279.3 C729.7,278.0 727.4,277.8 726.7,277.5" stroke-width="1.5" fill="none" />
<path d="M696.3,230.6 L697.1,261.9" stroke-width="1.4" fill="none" />
<path d="M720.6,175.0 L722.3,182.0 L738.0,190.6 L741.5,194.1" stroke-width="1.4" fill="none" />
<path d="M722.3,182.0 L775.0,182.0" stroke-width="1.4" fill="none" />
<path d="M739.5,191.6 L751.3,218.5 L759.2,250 L765.2,281.7 L769,337" stroke-width="1.3" stroke-dasharray="30,5,8,5" fill="none"/>
<path d="M757.1,180.2 L765.8,180.2 L765.8,192.4 L757.1,192.4" stroke-width="1.5" fill="none" />
<path d="M757.1,185.4 L765.8,185.4" stroke-width="1.2" fill="none" />
<path d="M758.8,192.4 L769.3,202.8 L769.3,216.7" stroke-width="1.4" fill="none" />
<path d="M750.1,215.0 L769.3,215.0" stroke-width="1.4" fill="none" />
<path d="M769.3,175.0 L769.3,285.0" stroke-width="1.8" fill="none" />
<path d="M771.9,175.0 L771.9,285.0" stroke-width="1.8" fill="none" />
<path d="M774.5,175.0 L774.5,285.0" stroke-width="1.8" fill="none" />
<path d="M673.7,266.2 L698.9,266.2 L698.9,272.3 L673.7,272.3 Z" stroke-width="1.6" fill="none" />
<path d="M675.4,267.4 L676.5,270.9" stroke-width="1.8" fill="none" />
<path d="M677.5,267.4 L678.6,270.9" stroke-width="1.8" fill="none" />
<path d="M679.6,267.4 L680.6,270.9" stroke-width="1.8" fill="none" />
<path d="M681.7,267.4 L682.7,270.9" stroke-width="1.8" fill="none" />
<path d="M683.8,267.4 L684.8,270.9" stroke-width="1.8" fill="none" />
<path d="M685.9,267.4 L686.9,270.9" stroke-width="1.8" fill="none" />
<path d="M687.9,267.4 L689.0,270.9" stroke-width="1.8" fill="none" />
<path d="M690.0,267.4 L691.1,270.9" stroke-width="1.8" fill="none" />
<path d="M692.1,267.4 L693.1,270.9" stroke-width="1.8" fill="none" />
<path d="M694.2,267.4 L695.2,270.9" stroke-width="1.8" fill="none" />
<path d="M696.3,267.4 L697.3,270.9" stroke-width="1.8" fill="none" />
<path d="M672.0,285.0 C672.0,283.3 671.4,277.0 672.0,274.9 C672.5,272.8 670.8,272.7 675.4,272.3 C680.1,271.9 694.8,271.7 699.8,272.3 C704.7,272.9 704.0,273.7 705.0,275.8 C706.0,277.9 705.7,283.5 705.8,285.0" stroke-width="1.8" fill="none" />
<path d="M668.5,375.0 C668.5,360.4 667.9,303.0 668.5,287.6 C669.1,272.2 666.7,283.2 672.0,282.4 C677.2,281.5 694.4,281.8 699.8,282.4 C705.1,283.0 703.1,283.0 704.1,285.9 C705.1,288.7 705.5,297.4 705.8,299.8" stroke-width="1.8" fill="none" />
<path d="M671.1,375.0 C671.1,361.0 670.6,305.9 671.1,291.1 C671.5,276.2 669.2,286.7 673.7,285.9 C678.2,285.0 693.4,285.3 698.0,285.9 C702.6,286.4 700.8,287.0 701.5,289.3 C702.2,291.6 702.2,298.0 702.4,299.8" stroke-width="1.4" fill="none" />
<path d="M675.4,293.7 L694.5,293.7" stroke-width="3.5" fill="none" />
<path d="M678.0,295.4 L678.0,357.1 L685.0,365.8 L692.8,357.1 L692.8,295.4" stroke-width="1.8" fill="none" />
<circle cx="685.0" cy="313.7" r="3.48" stroke-width="1.6" fill="none"/>
<path d="M685.0,310.2 L685.0,317.1" stroke-width="1.4" fill="none" />
<circle cx="682.4" cy="330.2" r="1.22" stroke-width="0.5" fill="#000"/>
<circle cx="688.5" cy="330.2" r="1.22" stroke-width="0.5" fill="#000"/>
<path d="M694.5,299.8 C695.3,302.6 697.9,311.3 698.9,317.1 C699.9,322.9 700.2,328.7 700.6,334.5 C701.1,340.3 701.2,345.1 701.5,351.9 C701.8,358.6 702.2,371.1 702.4,375.0" stroke-width="2.2" fill="none" />
<path d="M697.1,299.8 C697.9,302.6 700.5,311.3 701.5,317.1 C702.5,322.9 702.8,328.7 703.2,334.5 C703.7,340.3 703.8,345.1 704.1,351.9 C704.4,358.6 704.8,371.1 705.0,375.0" stroke-width="1.4" fill="none" />
<path d="M699.8,299.8 C700.5,302.6 703.1,311.3 704.1,317.1 C705.1,322.9 705.4,328.7 705.8,334.5 C706.3,340.3 706.4,345.1 706.7,351.9 C707.0,358.6 707.4,371.1 707.6,375.0" stroke-width="2.2" fill="none" />
<path d="M702.4,299.8 C703.1,302.6 705.7,311.3 706.7,317.1 C707.7,322.9 708.0,328.7 708.4,334.5 C708.9,340.3 709.0,345.1 709.3,351.9 C709.6,358.6 710.0,371.1 710.2,375.0" stroke-width="1.4" fill="none" />
<path d="M706.7,288.5 L717.1,288.5 L717.1,313.7 L706.7,313.7" stroke-width="1.6" fill="none" />
<path d="M717.1,288.5 L739.7,288.5" stroke-width="1.5" fill="none" />
<path d="M711.9,301.5 L734.5,301.5" stroke-width="3.0" fill="none" />
<path d="M734.5,265.0 C735.1,266.7 737.4,272.5 738.0,275.4 C738.6,278.3 738.8,280.6 738.0,282.4 C737.1,284.1 735.4,285.3 732.8,285.9 C730.2,286.4 724.1,285.9 722.3,285.9" stroke-width="1.8" fill="none" />
<path d="M731.0,265.0 C731.6,266.7 734.1,272.7 734.5,275.4 C734.9,278.2 734.5,280.2 733.6,281.5 C732.8,282.8 731.5,283.0 729.3,283.2 C727.1,283.5 722.1,283.2 720.6,283.2" stroke-width="1.4" fill="none" />
<path d="M725.8,278.0 L729.3,285.9" stroke-width="1.6" fill="none" />
<path d="M717.1,303.2 L729.3,303.2 L729.3,311.9 L717.1,311.9 Z" stroke-width="1.6" fill="none" />
<path d="M722.3,292.8 L720.6,299.8 L722.3,308.4" stroke-width="2.0" fill="none" />
<path d="M725.8,292.8 L724.1,299.8 L725.8,308.4" stroke-width="2.0" fill="none" />
<path d="M730.2,291.1 L730.2,375.0" stroke-width="1.4" fill="none" />
<path d="M734.5,313.7 L734.5,343.2 L739.7,343.2" stroke-width="1.6" fill="none" />
<path d="M731.0,317.1 L734.5,322.3 L738.0,334.5 L739.7,338.0" stroke-width="1.8" fill="none" />
<path d="M739.7,339.7 L764.9,339.7 L764.9,375.0" stroke-width="1.6" fill="none" />
<path d="M739.7,339.7 L739.7,375.0" stroke-width="1.6" fill="none" />
<path d="M739.7,289.3 L753.6,338.0" stroke-width="1.4" fill="none" />
<path d="M755.4,287.6 L755.4,339.7" stroke-width="1.4" fill="none" />
<path d="M761.4,287.6 L761.4,339.7" stroke-width="1.4" fill="none" />
<path d="M750.1,299.8 L751.0,308.4" stroke-width="2.0" fill="none" />
<circle cx="753.6" cy="302.4" r="1.74" stroke-width="1.4" fill="none"/>
<path d="M761.4,320.6 L775.0,320.6" stroke-width="1.4" fill="none" />
<path d="M770.1,265.0 L770.1,375.0" stroke-width="2.0" fill="none" />
<path d="M772.7,265.0 L772.7,375.0" stroke-width="2.0" fill="none" />
<ellipse cx="739.7" cy="357.1" rx="2.09" ry="1.74" transform="rotate(0 739.7 357.1)" stroke-width="2.4" fill="none"/>
<ellipse cx="739.7" cy="361.4" rx="2.09" ry="1.74" transform="rotate(0 739.7 361.4)" stroke-width="2.4" fill="none"/>
<path d="M724.1,372.7 L725.8,364.0 L728.4,369.3 L731.0,364.0 L731.0,372.7" stroke-width="1.6" fill="none" />
<path d="M705.8,299.8 L710.2,375.0" stroke-width="1.4" fill="none" />
<path d="M672.0,325.8 C672.4,325.2 674.0,321.5 674.6,322.3 C675.1,323.2 675.3,329.6 675.4,331.0" stroke-width="1.6" fill="none" />
<path d="M672.0,332.8 C672.4,332.2 674.0,328.4 674.6,329.3 C675.1,330.2 675.3,336.5 675.4,338.0" stroke-width="1.6" fill="none" />
<path d="M672.0,339.7 C672.4,339.1 674.0,335.4 674.6,336.2 C675.1,337.1 675.3,343.5 675.4,344.9" stroke-width="1.6" fill="none" />
<path d="M672.0,346.7 C672.4,346.1 674.0,342.3 674.6,343.2 C675.1,344.1 675.3,350.4 675.4,351.9" stroke-width="1.6" fill="none" />
<path d="M672.0,353.6 C672.4,353.0 674.0,349.3 674.6,350.1 C675.1,351.0 675.3,357.4 675.4,358.8" stroke-width="1.6" fill="none" />
<circle cx="678.1" cy="392.7" r="3.20" stroke-width="2.0" fill="none"/>
<circle cx="678.1" cy="392.7" r="1.28" stroke-width="0.5" fill="#000"/>
<circle cx="698.4" cy="393.8" r="3.20" stroke-width="2.0" fill="none"/>
<circle cx="698.4" cy="393.8" r="1.28" stroke-width="0.5" fill="#000"/>
<path d="M669.6,386.3 C670.5,388.5 673.3,396.4 674.9,399.1 C676.5,401.8 674.6,401.8 679.2,402.3 C683.8,402.8 698.2,403.6 702.6,402.3 C707.1,401.1 705.5,397.9 705.8,394.9 C706.2,391.8 706.7,387.0 704.8,384.2 C702.8,381.3 695.9,381.0 694.1,377.8 C692.3,374.6 694.1,367.1 694.1,365.0" stroke-width="1.8" fill="none" />
<path d="M674.9,402.3 L674.9,475.9" stroke-width="1.5" fill="none" />
<path d="M679.2,402.3 L679.2,478.0" stroke-width="1.6" fill="none" />
<path d="M694.1,402.3 L694.1,478.0" stroke-width="1.6" fill="none" />
<path d="M679.2,478.0 L694.1,478.0" stroke-width="1.4" fill="none" />
<path d="M697.3,426.8 L702.6,426.8 L700.5,467.3 L697.3,465.2 Z" stroke-width="1.6" fill="none" />
<path d="M694.1,403.4 L697.3,426.8" stroke-width="1.5" fill="none" />
<path d="M700.5,403.4 L702.6,426.8" stroke-width="1.5" fill="none" />
<circle cx="699.4" cy="470.5" r="3.84" stroke-width="3.0" fill="none"/>
<path d="M692.0,460.9 L696.2,458.8 L697.3,467.3" stroke-width="1.6" fill="none" />
<path d="M679.2,481.2 L692.0,481.2 L692.0,485.5 L679.2,485.5 Z" stroke-width="1.5" fill="none" />
<path d="M671.7,488.0 L699.4,488.0" stroke-width="3.0" fill="none" />
<path d="M660.0,403.4 L664.3,404.4 L668.5,401.2 L672.8,399.1" stroke-width="2.2" fill="none" />
<path d="M672.8,403.4 C673.3,405.2 675.3,410.1 676.0,414.0 C676.7,417.9 676.9,424.7 677.1,426.8" stroke-width="2.6" fill="none" />
<line x1="704" y1="401.9" x2="739" y2="401.9" stroke-width="1.2" />
<line x1="704" y1="405" x2="739" y2="405" stroke-width="2.4" stroke="#555"/>
<line x1="703" y1="412.6" x2="790" y2="412.6" stroke-width="2.2" />
<line x1="740.8" y1="395" x2="740.8" y2="411.6" stroke-width="1.5" />
<line x1="741.5" y1="400.8" x2="769" y2="400.8" stroke-width="1.3" />
<line x1="748" y1="400.6" x2="762" y2="400.6" stroke-width="2.6" />
<line x1="716" y1="405" x2="716" y2="412" stroke-width="2.6" />
<line x1="704" y1="409" x2="739" y2="409" stroke-width="1.0" />
<path d="M741.0,399.1 L770.0,399.1" stroke-width="1.6" fill="none" />
<path d="M738.9,365.0 L738.9,404.4" stroke-width="1.6" fill="none" />
<circle cx="721.8" cy="397.0" r="2.56" stroke-width="1.6" fill="none"/>
<path d="M724.0,365.0 L727.2,397.0" stroke-width="2.2" fill="none" />
<path d="M729.3,365.0 L730.4,397.0" stroke-width="1.4" fill="none" />
<path d="M709.0,365.0 L709.0,384.2 L724.0,386.3" stroke-width="1.6" fill="none" />
<path d="M711.2,388.5 L724.0,390.6" stroke-width="2.2" fill="none" />
<path d="M692.0,365.0 L692.0,377.8" stroke-width="1.6" fill="none" />
<path d="M668.5,365.0 L669.6,386.3" stroke-width="1.6" fill="none" />
<path d="M672.8,365.0 L672.8,377.8 L683.5,386.3" stroke-width="1.6" fill="none" />
<path d="M672.8,463.1 L677.1,463.1" stroke-width="1.6" fill="none" />
<path d="M695.2,414.0 L698.4,414.0 L698.4,420.4 L695.2,420.4" stroke-width="1.6" fill="none" />
<path d="M749.6,365.0 L749.6,399.1" stroke-width="1.4" fill="none" />
<path d="M730.0,311.6 L712.5,311.6 L712.5,386.6 L722.0,386.6" stroke-width="1.6" fill="none" />
<path d="M712.5,316.0 L728.0,316.0" stroke-width="1.2" fill="none" />
<path d="M696.0,310.5 L704.2,357.8" stroke-width="2.2" fill="none" />
<path d="M700.1,310.5 L708.3,357.8" stroke-width="1.4" fill="none" />
<path d="M815.4,108.4 L815.4,92.8 L817.3,91.6 L871.4,91.6 L873.2,92.8 L873.2,108.4" stroke-width="2.2" fill="none" />
<path d="M820.2,95.2 L820.2,98.2" stroke-width="2.0" fill="none" />
<path d="M819.2,95.2 L821.1,95.2" stroke-width="1.0" fill="none" />
<path d="M826.6,95.2 L826.6,98.2" stroke-width="2.0" fill="none" />
<path d="M825.7,95.2 L827.6,95.2" stroke-width="1.0" fill="none" />
<path d="M833.1,95.2 L833.1,98.2" stroke-width="2.0" fill="none" />
<path d="M832.1,95.2 L834.0,95.2" stroke-width="1.0" fill="none" />
<path d="M839.5,95.2 L839.5,98.2" stroke-width="2.0" fill="none" />
<path d="M838.6,95.2 L840.5,95.2" stroke-width="1.0" fill="none" />
<path d="M845.9,95.2 L845.9,98.2" stroke-width="2.0" fill="none" />
<path d="M845.0,95.2 L846.9,95.2" stroke-width="1.0" fill="none" />
<path d="M852.4,95.2 L852.4,98.2" stroke-width="2.0" fill="none" />
<path d="M851.4,95.2 L853.3,95.2" stroke-width="1.0" fill="none" />
<path d="M858.8,95.2 L858.8,98.2" stroke-width="2.0" fill="none" />
<path d="M857.9,95.2 L859.8,95.2" stroke-width="1.0" fill="none" />
<path d="M865.3,95.2 L865.3,98.2" stroke-width="2.0" fill="none" />
<path d="M864.3,95.2 L866.2,95.2" stroke-width="1.0" fill="none" />
<path d="M815.9,99.0 L872.8,99.0 L872.8,108.4 L861.9,108.4 L844.8,113.2 L826.8,108.4 L815.9,108.4 Z" stroke-width="0.8" fill="#1a1a1a" />
<ellipse cx="822.1" cy="104.8" rx="3.79" ry="1.71" transform="rotate(0 822.1 104.8)" stroke-width="0.5" fill="#fff"/>
<ellipse cx="867.6" cy="105.4" rx="3.60" ry="1.71" transform="rotate(0 867.6 105.4)" stroke-width="0.5" fill="#fff"/>
<path d="M833.4,100.4 L836.3,106.5" stroke-width="3" fill="none" />
<path d="M850.5,100.9 L855.2,107.5" stroke-width="3" fill="none" />
<path d="M826.8,108.4 L844.8,120.8 L861.9,108.4" stroke-width="3.5" fill="none" />
<path d="M826.8,119.8 L844.8,111.3 L861.9,119.8" stroke-width="2.2" fill="none" />
<path d="M815.4,108.4 L826.8,119.8 L830.6,125.5" stroke-width="1.8" fill="none" />
<path d="M873.2,108.4 L861.9,119.8 L858.1,125.5" stroke-width="1.8" fill="none" />
<ellipse cx="835.3" cy="113.4" rx="5.21" ry="1.61" transform="rotate(-8 835.3 113.4)" stroke-width="1.5" fill="none"/>
<path d="M838.2,140.0 C838.2,138.5 837.9,133.7 838.4,131.2 C838.8,128.7 839.9,126.3 841.0,125.0 C842.2,123.8 843.9,123.8 845.3,123.8 C846.7,123.8 848.4,123.8 849.5,125.0 C850.7,126.3 851.9,128.7 852.4,131.2 C852.9,133.7 852.6,138.5 852.6,140.0" stroke-width="1.5" fill="#1e1e1e" />
<path d="M842.4,129.3 L848.1,129.3" stroke-width="3.0" fill="none" />
<path d="M842.4,133.1 L848.1,133.1" stroke-width="3.0" fill="none" />
<path d="M842.4,136.9 L848.1,136.9" stroke-width="3.0" fill="none" />
<path d="M805.0,108.4 L815.4,108.4" stroke-width="1.6" fill="none" />
<path d="M828.7,125.5 L861.9,125.5" stroke-width="1.6" fill="none" />
<path d="M828.7,129.3 L837.2,129.3" stroke-width="1.4" fill="none" />
<path d="M853.3,129.3 L861.9,129.3" stroke-width="1.4" fill="none" />
<line x1="774.9" y1="153" x2="774.9" y2="212" stroke-width="2.8" />
<line x1="797.6" y1="153" x2="797.6" y2="212" stroke-width="2.8" />
<line x1="888.6" y1="153" x2="888.6" y2="212" stroke-width="2.8" />
<line x1="914.8" y1="153" x2="914.8" y2="212" stroke-width="2.8" />
</svg>
</body></html>
